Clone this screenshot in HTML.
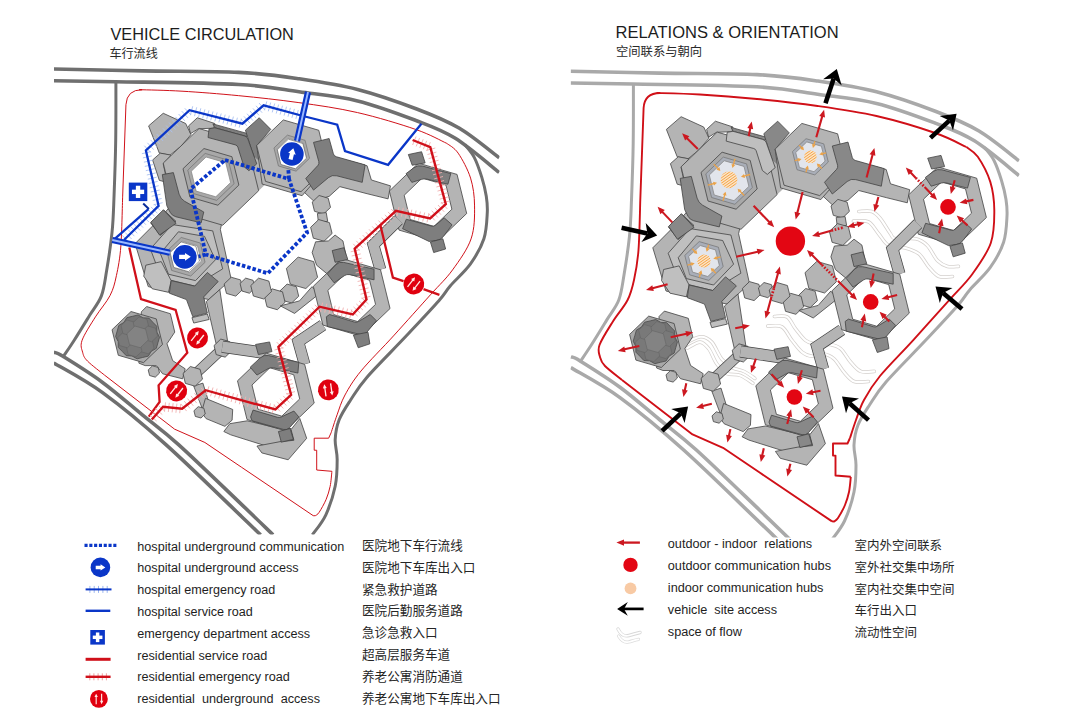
<!DOCTYPE html>
<html><head><meta charset="utf-8"><title>Vehicle circulation / Relations &amp; orientation</title>
<style>
html,body{margin:0;padding:0;background:#fff;}
body{width:1080px;height:715px;overflow:hidden;font-family:"Liberation Sans",sans-serif;}
svg{display:block}
text{font-family:"Liberation Sans","Noto Sans CJK SC",sans-serif;}
</style></head><body>
<svg width="1080" height="715" viewBox="0 0 1080 715">
<rect width="1080" height="715" fill="#fff"/>

<text x="110.4" y="40.1" font-size="16.4" fill="#1c1c1c" textLength="183.5" lengthAdjust="spacingAndGlyphs">VEHICLE CIRCULATION</text>
<text x="109.4" y="57.5" font-size="12.1" fill="#2a2a2a">车行流线</text>
<text x="615.6" y="37.8" font-size="16.4" fill="#1c1c1c" textLength="223" lengthAdjust="spacingAndGlyphs">RELATIONS &amp; ORIENTATION</text>
<text x="616" y="56.3" font-size="12.3" fill="#2a2a2a">空间联系与朝向</text>
<g id="planL">
<clipPath id="clipL"><rect x="54" y="60" width="445.5" height="474.6"/></clipPath><g clip-path="url(#clipL)"><g transform="translate(-513.72,-1.59) scale(0.99404,0.99157)"><path d="M570.7 71.2C585.6 71.5 629.0 72.5 660.0 73.1C691.0 73.7 730.7 73.3 757.0 74.6C783.3 75.9 797.7 78.1 817.6 81.0C837.5 83.9 856.8 86.7 876.5 91.8C896.2 96.9 918.9 105.0 936.0 111.5C953.1 118.0 965.2 122.8 979.0 131.0C992.8 139.2 1012.3 155.8 1019.0 160.8" fill="none" stroke="#6f6f6f" stroke-width="3.60" stroke-linejoin="round" stroke-linecap="butt"/>
<path d="M570.7 83.0C581.1 83.2 602.0 83.4 633.0 84.0C664.0 84.6 726.2 85.1 757.0 86.8C787.8 88.5 797.7 91.4 817.6 94.2C837.5 97.0 856.9 98.6 876.5 103.4C896.1 108.2 918.9 116.9 935.2 123.1C951.5 129.3 960.4 132.1 974.4 140.8C988.4 149.5 1011.6 169.7 1019.0 175.5" fill="none" stroke="#6f6f6f" stroke-width="3.60" stroke-linejoin="round" stroke-linecap="butt"/>
<path d="M633.4 84.0C633.4 93.8 633.5 123.7 633.2 143.0C632.9 162.3 632.1 184.5 631.5 200.0C630.9 215.5 630.8 223.5 629.5 236.0C628.2 248.5 625.8 264.3 624.0 275.0C622.2 285.7 621.6 292.6 618.8 300.0C616.0 307.4 611.6 312.1 607.0 319.6C602.4 327.1 595.7 338.1 591.3 345.0C586.9 351.9 582.3 358.5 580.5 361.2" fill="none" stroke="#6f6f6f" stroke-width="3.00" stroke-linejoin="round" stroke-linecap="butt"/>
<path d="M570.8 356.8C572.4 357.5 572.3 356.1 580.5 361.2C588.7 366.3 606.8 377.5 620.0 387.3C633.2 397.1 647.3 409.6 660.0 420.0C672.7 430.4 679.7 434.9 696.4 450.0C713.1 465.1 744.1 495.3 760.0 510.5C775.9 525.7 786.2 535.9 791.5 541.0" fill="none" stroke="#6f6f6f" stroke-width="3.60" stroke-linejoin="round" stroke-linecap="butt"/>
<path d="M570.8 367.6C579.0 372.6 601.2 383.9 620.0 397.6C638.8 411.3 660.4 429.1 683.7 450.0C707.0 470.9 744.1 507.5 760.0 522.7C775.9 537.9 775.8 538.0 779.0 541.0" fill="none" stroke="#6f6f6f" stroke-width="3.60" stroke-linejoin="round" stroke-linecap="butt"/>
<path d="M984.5 147.5C986.1 149.7 991.2 155.0 994.0 160.5C996.8 166.0 999.5 174.0 1001.5 180.5C1003.5 187.0 1005.1 193.6 1006.0 199.5C1006.9 205.4 1007.4 208.9 1007.0 216.0C1006.6 223.1 1006.4 233.7 1003.6 242.3C1000.8 250.9 995.7 259.8 990.1 267.7C984.5 275.6 975.2 283.5 969.9 289.7C964.6 295.9 965.6 296.5 958.3 304.9C951.0 313.2 938.1 326.9 926.1 339.8C914.1 352.7 895.4 371.1 886.0 382.0C876.6 392.9 874.2 397.8 869.5 405.0C864.8 412.2 860.6 418.3 858.0 425.0C855.4 431.7 854.3 438.3 854.0 445.0C853.7 451.7 856.0 457.2 856.0 465.0C856.0 472.8 855.9 482.7 854.0 492.0C852.1 501.3 848.3 512.8 844.5 521.0C840.7 529.2 833.2 537.7 831.0 541.0" fill="none" stroke="#6f6f6f" stroke-width="3.00" stroke-linejoin="round" stroke-linecap="butt"/></g><g transform="translate(-513.82,-2.77) scale(0.99404,0.9943)"><path d="M640.3 200 L643.6 108 Q644.5 93 660 93 L657.0 93.0C664.2 93.2 683.3 93.5 700.0 94.5C716.7 95.5 737.4 97.1 757.0 99.0C776.6 100.9 797.7 103.2 817.6 106.0C837.5 108.8 856.9 111.5 876.5 116.0C896.1 120.5 920.2 127.8 935.2 133.0C950.2 138.2 961.2 144.7 966.4 147.0" fill="none" stroke="#d01018" stroke-width="1.00" stroke-linejoin="round" stroke-linecap="butt"/>
<path d="M966.4 147.0C968.3 148.6 973.8 151.0 977.8 156.8C981.8 162.6 987.5 173.1 990.3 181.9C993.0 190.8 994.2 199.7 994.3 209.9C994.4 220.1 994.5 232.3 990.8 243.0C987.1 253.7 979.0 264.8 972.2 274.2C965.4 283.6 959.7 288.4 949.9 299.3C940.1 310.2 925.1 327.0 913.5 339.8C901.9 352.6 888.2 366.0 880.0 376.0C871.8 386.0 868.0 392.7 864.0 400.0C860.0 407.3 858.3 413.7 856.0 420.0C853.7 426.3 851.0 435.0 850.0 438.0" fill="none" stroke="#d01018" stroke-width="1.00" stroke-linejoin="round" stroke-linecap="butt"/>
<path d="M850 438 L847.5 443.5 L833 443.5 L833 455.6 L835.5 455.6 L835.5 475.5 L850.8 476.8" fill="none" stroke="#d01018" stroke-width="1.00" stroke-linejoin="round" stroke-linecap="butt"/>
<path d="M850.8 476.8C850.5 479.3 850.0 487.3 849.0 492.0C848.0 496.7 846.8 500.7 845.0 505.0C843.2 509.3 839.8 515.2 838.0 518.0C836.2 520.8 834.7 520.9 834.0 521.5 L832 521.4" fill="none" stroke="#d01018" stroke-width="1.00" stroke-linejoin="round" stroke-linecap="butt"/>
<path d="M832 521.4 L760 472.8 L723 447.8 L692.5 434.4 L622 380" fill="none" stroke="#d01018" stroke-width="1.00" stroke-linejoin="round" stroke-linecap="butt"/>
<path d="M622.0 380.0C619.2 377.7 608.7 369.8 605.0 366.0C601.3 362.2 600.9 360.5 600.0 357.0C599.1 353.5 597.4 350.9 599.5 345.0C601.6 339.1 608.2 329.0 612.9 321.5C617.6 314.0 624.1 306.9 627.6 300.0C631.1 293.1 632.2 288.3 634.0 280.0C635.8 271.7 637.5 263.3 638.5 250.0C639.5 236.7 640.0 208.3 640.3 200.0" fill="none" stroke="#d01018" stroke-width="1.00" stroke-linejoin="round" stroke-linecap="butt"/><polygon points="652.8,247.8 677.4,223.1 690.0,208.0 742.0,218.0 738.6,233.7 749.5,283.7 727.0,304.0 689.0,297.0 666.0,291.0" fill="#b4b4b4" stroke="#424242" stroke-width="0.80" stroke-linejoin="round"/>
<polygon points="666.4,129.4 681.1,116.7 703.7,127.0 709.0,138.2 698.8,150.0 688.0,158.8 677.2,156.8" fill="#b4b4b4" stroke="#424242" stroke-width="0.80" stroke-linejoin="round"/>
<polygon points="670.4,163.7 678.2,156.8 689.0,158.8 681.1,167.6 685.1,186.2 677.2,184.2" fill="#b4b4b4" stroke="#424242" stroke-width="0.80" stroke-linejoin="round"/>
<polygon points="706.6,129.4 715.4,121.2 733.0,127.0 732.1,131.7 716.4,132.3 708.6,137.2" fill="#b4b4b4" stroke="#424242" stroke-width="0.80" stroke-linejoin="round"/>
<polygon points="731.1,127.4 766.3,137.2 765.4,140.2 733.0,131.3" fill="#7e7e7e" stroke="#424242" stroke-width="0.80" stroke-linejoin="round"/>
<polygon points="763.8,133.7 777.7,121.2 789.3,132.9 777.1,147.0 781.0,167.6 775.2,168.6 769.3,151.3" fill="#7e7e7e" stroke="#424242" stroke-width="0.80" stroke-linejoin="round"/>
<polygon points="846.0,158.8 886.2,169.5 890.5,183.8 909.7,189.7 907.3,202.8 886.2,197.6 858.8,190.5 848.0,200.3 832.3,204.8 818.6,192.1 837.2,168.6" fill="#b4b4b4" stroke="#424242" stroke-width="0.80" stroke-linejoin="round"/>
<polygon points="768.3,156.8 781.0,167.6 785.0,187.2 777.1,194.6 770.3,178.4" fill="#b4b4b4" stroke="none" stroke-width="0.80" stroke-linejoin="round"/>
<polygon points="846.5,169.9 820.8,199.6 780.6,187.9 775.1,149.1" fill="#b4b4b4" stroke="#424242" stroke-width="0.80" stroke-linejoin="round"/>
<polygon points="846.5,169.9 819.7,195.6 784.0,185.2 775.1,149.1 801.9,123.4 837.6,133.8" fill="#b4b4b4" stroke="#424242" stroke-width="0.80" stroke-linejoin="round"/>
<polygon points="777.1,194.6 741.0,229.3 693.0,215.3 681.1,166.8 717.2,132.1 765.2,146.1" fill="#b4b4b4" stroke="#424242" stroke-width="0.80" stroke-linejoin="round"/>
<path d="M727.2 132.3L733.0 131.3L762.7 139.4Q765.4 140.2 766.3 142.7L775.2 167.6L767.3 174.4L762.4 170.5L756.2 150.8Q755.6 149.0 753.7 148.5L726.2 141.1Z" fill="#7e7e7e" stroke="#424242" stroke-width="0.80" stroke-linejoin="round" stroke-linecap="butt"/>
<polygon points="757.2,188.9 736.1,209.2 708.0,201.0 701.0,172.5 722.1,152.2 750.2,160.4" fill="#a8a8a8" stroke="#424242" stroke-width="0.80" stroke-linejoin="round"/>
<polygon points="752.4,187.5 734.9,204.3 711.6,197.5 705.8,173.9 723.3,157.1 746.6,163.9" fill="#a8a8a8" stroke="#666" stroke-width="0.60" stroke-linejoin="round"/>
<polygon points="748.9,186.4 734.0,200.7 714.2,195.0 709.3,175.0 724.2,160.7 744.0,166.4" fill="#ffffff" stroke="#888" stroke-width="0.80" stroke-linejoin="round"/>
<polygon points="828.3,162.0 814.8,174.9 797.0,169.7 792.5,151.6 806.0,138.7 823.8,143.9" fill="#a8a8a8" stroke="#666" stroke-width="0.60" stroke-linejoin="round"/>
<polygon points="825.1,161.1 814.0,171.7 799.4,167.4 795.7,152.5 806.8,141.9 821.4,146.2" fill="#ffffff" stroke="#888" stroke-width="0.80" stroke-linejoin="round"/>
<path d="M680.2 178.4L691.3 176.4L697.1 198.1Q698.4 202.8 702.6 205.2L721.9 216.0L719.3 226.9L693.8 220.8Q690.0 219.9 688.1 216.4L684.7 209.7Z" fill="#7e7e7e" stroke="#424242" stroke-width="0.80" stroke-linejoin="round" stroke-linecap="butt"/>
<polygon points="668.4,226.9 681.7,214.2 693.9,225.4 678.2,239.5" fill="#7e7e7e" stroke="#424242" stroke-width="0.80" stroke-linejoin="round"/>
<path d="M832.3 146.0L848.0 142.1L852.3 157.5Q852.9 159.7 855.2 160.4L884.2 168.6L881.3 186.2L855.7 179.6Q850.9 178.4 847.2 181.5L832.3 194.0L824.5 182.3L836.6 169.3Q838.2 167.6 837.6 165.3Z" fill="#7e7e7e" stroke="#424242" stroke-width="0.80" stroke-linejoin="round" stroke-linecap="butt"/>
<polygon points="849.4,211.4 842.5,218.0 833.3,215.3 831.0,206.0 837.9,199.4 847.1,202.1" fill="#b4b4b4" stroke="#424242" stroke-width="0.80" stroke-linejoin="round"/>
<polygon points="836.2,217.5 845.1,216.6 846.6,225.4 837.2,226.3" fill="#b4b4b4" stroke="#424242" stroke-width="0.80" stroke-linejoin="round"/>
<polygon points="851.0,237.6 842.9,245.4 832.1,242.3 829.4,231.4 837.5,223.6 848.3,226.7" fill="#b4b4b4" stroke="#424242" stroke-width="0.80" stroke-linejoin="round"/>
<polygon points="986.4,217.5 957.2,245.5 918.3,234.2 908.6,194.9 937.8,166.9 976.7,178.2" fill="#b4b4b4" stroke="#424242" stroke-width="0.80" stroke-linejoin="round"/>
<polygon points="971.5,213.2 953.5,230.5 929.5,223.5 923.5,199.2 941.5,181.9 965.5,188.9" fill="#fff" stroke="#424242" stroke-width="0.80" stroke-linejoin="round"/>
<polygon points="927.7,158.2 941.0,155.4 944.6,166.6 931.6,169.0" fill="#7e7e7e" stroke="#424242" stroke-width="0.80" stroke-linejoin="round"/>
<path d="M925.4 177.4L933.2 171.5Q937.1 168.6 941.9 169.8L970.4 177.4L967.5 188.1L946.8 183.0Q944.0 182.3 941.2 183.1L931.2 186.2Z" fill="#7e7e7e" stroke="#424242" stroke-width="0.80" stroke-linejoin="round" stroke-linecap="butt"/>
<path d="M921.9 232.8L925.6 223.3L951.1 230.2Q953.2 230.8 954.9 229.4L963.8 221.9L971.7 228.9L963.0 240.6Q960.5 244.0 956.3 244.5L948.5 245.6Z" fill="#7e7e7e" stroke="#424242" stroke-width="0.80" stroke-linejoin="round" stroke-linecap="butt"/>
<polygon points="949.9,246.2 962.4,242.9 965.2,253.2 953.2,256.8" fill="#7e7e7e" stroke="#424242" stroke-width="0.80" stroke-linejoin="round"/>
<polygon points="724.5,306.0 738.0,294.0 745.8,345.5 734.3,348.5" fill="#b4b4b4" stroke="#424242" stroke-width="0.80" stroke-linejoin="round"/>
<polygon points="668.2,253.2 690.0,228.6 730.9,235.0 740.9,273.2 712.7,290.5 679.1,282.3" fill="#bfbfbf" stroke="#424242" stroke-width="0.80" stroke-linejoin="round"/>
<polygon points="678.2,257.7 696.4,235.9 722.7,240.5 733.6,264.1 713.6,285.0 686.4,278.6" fill="#b4b4b4" stroke="#424242" stroke-width="0.80" stroke-linejoin="round"/>
<polygon points="723.2,266.6 708.8,280.4 689.6,274.8 684.8,255.4 699.2,241.6 718.4,247.2" fill="#a8a8a8" stroke="#666" stroke-width="0.60" stroke-linejoin="round"/>
<polygon points="719.4,265.5 707.8,276.5 692.5,272.1 688.6,256.5 700.2,245.5 715.5,249.9" fill="#ffffff" stroke="#888" stroke-width="0.80" stroke-linejoin="round"/>
<polygon points="663.6,269.5 679.1,265.9 689.1,285.0 686.4,296.8 670.0,293.2 661.5,280.5" fill="#bfbfbf" stroke="#424242" stroke-width="0.80" stroke-linejoin="round"/>
<polygon points="689.1,285.0 712.7,290.5 725.5,276.8 736.4,285.9 721.8,301.4 725.5,317.7 710.9,321.4 704.5,304.1 687.3,297.7" fill="#7e7e7e" stroke="#424242" stroke-width="0.80" stroke-linejoin="round"/>
<polygon points="710.0,322.3 725.5,318.6 727.3,324.1 711.8,327.7" fill="#bfbfbf" stroke="#424242" stroke-width="0.80" stroke-linejoin="round"/>
<polygon points="668.6,226.4 681.3,213.7 694.0,227.4 677.4,239.2" fill="#7e7e7e" stroke="#424242" stroke-width="0.80" stroke-linejoin="round"/>
<polygon points="761.2,293.8 754.1,300.6 744.7,297.9 742.4,288.4 749.5,281.6 758.9,284.3" fill="#b4b4b4" stroke="#424242" stroke-width="0.80" stroke-linejoin="round"/>
<path d="M741.2 352.9 L710.8 381.3" fill="none" stroke="#424242" stroke-width="10.4" stroke-linejoin="miter" stroke-miterlimit="10"/>
<path d="M741.2 352.9 L710.8 381.3" fill="none" stroke="#b4b4b4" stroke-width="9.0" stroke-linejoin="miter" stroke-miterlimit="10"/>
<polygon points="659.1,316.4 664.4,311.1 688.3,318.3 692.7,336.8 684.9,348.5 690.6,365.5 703.2,373.7 700.6,383.8 680.5,378.7 674.2,370.5 662.9,370.5 656.6,368.0" fill="#b4b4b4" stroke="#424242" stroke-width="0.80" stroke-linejoin="round"/>
<polygon points="680.4,349.2 661.3,367.5 635.9,360.1 629.6,334.4 648.7,316.1 674.1,323.5" fill="#a8a8a8" stroke="#424242" stroke-width="0.80" stroke-linejoin="round"/>
<polygon points="675.8,347.5 674.2,353.1 669.2,356.1 666.0,361.0 660.4,362.3 654.8,363.7 649.7,360.8 643.9,360.5 639.9,356.3 635.9,352.2 635.8,346.4 633.2,341.2 634.8,335.7 636.4,330.1 641.4,327.1 644.6,322.2 650.2,320.9 655.8,319.5 660.9,322.4 666.7,322.7 670.7,326.9 674.7,331.0 674.8,336.8 677.4,342.0" fill="#747474" stroke="#4a4a4a" stroke-width="0.80" stroke-linejoin="round"/>
<polygon points="671.9,353.0 666.0,358.6 658.1,356.3 656.2,348.4 662.1,342.7 670.0,345.0" fill="#797979" stroke="#606060" stroke-width="0.50" stroke-linejoin="round"/>
<polygon points="659.7,356.0 653.8,361.7 645.9,359.4 644.0,351.4 649.9,345.7 657.7,348.0" fill="#797979" stroke="#606060" stroke-width="0.50" stroke-linejoin="round"/>
<polygon points="650.9,346.9 645.0,352.6 637.2,350.3 635.2,342.4 641.1,336.7 649.0,339.0" fill="#797979" stroke="#606060" stroke-width="0.50" stroke-linejoin="round"/>
<polygon points="654.4,334.8 648.5,340.5 640.6,338.2 638.7,330.2 644.6,324.6 652.5,326.9" fill="#797979" stroke="#606060" stroke-width="0.50" stroke-linejoin="round"/>
<polygon points="666.6,331.8 660.7,337.5 652.9,335.2 650.9,327.2 656.8,321.5 664.7,323.8" fill="#797979" stroke="#606060" stroke-width="0.50" stroke-linejoin="round"/>
<polygon points="675.4,340.8 669.5,346.5 661.6,344.2 659.7,336.3 665.6,330.6 673.4,332.9" fill="#797979" stroke="#606060" stroke-width="0.50" stroke-linejoin="round"/>
<polygon points="666.1,344.7 658.0,352.5 647.2,349.4 644.5,338.5 652.6,330.7 663.4,333.8" fill="#838383" stroke="#606060" stroke-width="0.50" stroke-linejoin="round"/>
<polygon points="677.4,378.0 673.1,382.1 667.4,380.5 666.0,374.8 670.3,370.7 676.0,372.3" fill="#b4b4b4" stroke="#424242" stroke-width="0.80" stroke-linejoin="round"/>
<polygon points="711.8,391.1 721.0,388.1 726.5,405.8 730.4,415.6 722.6,419.5 717.7,406.8" fill="#b4b4b4" stroke="#424242" stroke-width="0.80" stroke-linejoin="round"/>
<polygon points="723.6,403.4 751.0,414.6 750.4,425.4 743.2,431.6 724.2,423.8 719.6,417.5" fill="#b4b4b4" stroke="#424242" stroke-width="0.80" stroke-linejoin="round"/>
<polygon points="723.4,419.1 719.1,423.2 713.4,421.6 712.0,415.9 716.3,411.8 722.0,413.4" fill="#b4b4b4" stroke="#424242" stroke-width="0.80" stroke-linejoin="round"/>
<polygon points="750.2,355.5 743.4,362.0 734.4,359.4 732.2,350.3 739.0,343.8 748.0,346.4" fill="#b4b4b4" stroke="#424242" stroke-width="0.80" stroke-linejoin="round"/>
<polygon points="720.6,384.1 713.2,391.2 703.4,388.4 701.0,378.5 708.4,371.4 718.2,374.2" fill="#b4b4b4" stroke="#424242" stroke-width="0.80" stroke-linejoin="round"/>
<polygon points="834.4,246.0 847.2,245.1 854.0,239.2 861.9,245.1 864.8,258.8 857.9,265.6 846.2,278.4 835.4,269.5 830.9,256.8" fill="#b4b4b4" stroke="#424242" stroke-width="0.80" stroke-linejoin="round"/>
<polygon points="773.4,292.3 767.8,297.7 760.3,295.5 758.4,287.9 764.0,282.5 771.5,284.7" fill="#b4b4b4" stroke="#424242" stroke-width="0.80" stroke-linejoin="round"/>
<polygon points="817.4,300.7 810.3,307.5 800.9,304.8 798.6,295.3 805.7,288.5 815.1,291.2" fill="#b4b4b4" stroke="#424242" stroke-width="0.80" stroke-linejoin="round"/>
<polygon points="803.7,306.8 795.9,314.3 785.5,311.3 782.9,300.8 790.7,293.3 801.1,296.3" fill="#b4b4b4" stroke="#424242" stroke-width="0.80" stroke-linejoin="round"/>
<polygon points="790.0,296.0 782.2,303.5 771.8,300.5 769.2,290.0 777.0,282.5 787.4,285.5" fill="#b4b4b4" stroke="#424242" stroke-width="0.80" stroke-linejoin="round"/>
<polygon points="836.4,281.7 824.6,293.0 808.9,288.5 805.0,272.7 816.8,261.4 832.5,265.9" fill="#b4b4b4" stroke="#424242" stroke-width="0.80" stroke-linejoin="round"/>
<polygon points="798.9,310.4 813.2,318.0 837.5,298.7 830.8,291.1 818.2,305.4" fill="#b4b4b4" stroke="#424242" stroke-width="0.80" stroke-linejoin="round"/>
<path d="M740.5 351.5 L784.7 358.0" fill="none" stroke="#424242" stroke-width="12.2" stroke-linejoin="miter" stroke-miterlimit="10"/>
<path d="M740.5 351.5 L784.7 358.0" fill="none" stroke="#b4b4b4" stroke-width="10.8" stroke-linejoin="miter" stroke-miterlimit="10"/>
<path d="M841.8 329.8 L817.0 346.5 L823.3 369.1" fill="none" stroke="#424242" stroke-width="11.8" stroke-linejoin="miter" stroke-miterlimit="10"/>
<path d="M841.8 329.8 L817.0 346.5 L823.3 369.1" fill="none" stroke="#b4b4b4" stroke-width="10.4" stroke-linejoin="miter" stroke-miterlimit="10"/>
<polygon points="742.1,436.8 748.0,428.9 765.6,426.0 797.9,433.8 809.7,433.8 812.6,445.6 797.9,447.5 786.2,451.8 749.0,440.1" fill="#b4b4b4" stroke="#424242" stroke-width="0.80" stroke-linejoin="round"/>
<polygon points="775.4,451.4 797.9,447.1 812.6,445.6 809.7,434.8 818.5,423.6 825.4,443.6 806.8,465.2 780.3,458.3" fill="#b4b4b4" stroke="#424242" stroke-width="0.80" stroke-linejoin="round"/>
<path d="M899.6 274.0 L892.5 249.0 L917.9 223.8" fill="none" stroke="#424242" stroke-width="11.9" stroke-linejoin="miter" stroke-miterlimit="10"/>
<path d="M899.6 274.0 L892.5 249.0 L917.9 223.8" fill="none" stroke="#b4b4b4" stroke-width="10.5" stroke-linejoin="miter" stroke-miterlimit="10"/>
<polygon points="909.3,313.1 880.3,340.9 841.7,329.7 832.1,290.7 861.1,262.9 899.7,274.1" fill="#b4b4b4" stroke="#424242" stroke-width="0.80" stroke-linejoin="round"/>
<polygon points="894.7,308.9 876.7,326.2 852.7,319.2 846.7,294.9 864.7,277.6 888.7,284.6" fill="#fff" stroke="#424242" stroke-width="0.80" stroke-linejoin="round"/>
<polygon points="851.1,254.8 862.8,251.9 866.8,263.7 854.0,266.6" fill="#7e7e7e" stroke="#424242" stroke-width="0.80" stroke-linejoin="round"/>
<path d="M846.2 278.4L854.6 269.2Q857.9 265.6 862.7 266.7L893.2 273.5L893.2 284.2L868.7 279.0Q865.8 278.4 863.4 280.0L853.0 287.2Z" fill="#7e7e7e" stroke="#424242" stroke-width="0.80" stroke-linejoin="round" stroke-linecap="butt"/>
<path d="M845.2 321.4L848.5 319.1L873.7 326.8Q875.6 327.3 877.3 326.3L889.3 319.1L895.6 325.4L885.9 337.0Q883.4 340.1 879.6 339.2L846.2 331.2Z" fill="#7e7e7e" stroke="#424242" stroke-width="0.80" stroke-linejoin="round" stroke-linecap="butt"/>
<polygon points="872.4,339.8 887.1,336.9 889.0,348.6 877.3,352.5" fill="#7e7e7e" stroke="#424242" stroke-width="0.80" stroke-linejoin="round"/>
<polygon points="833.0,408.2 804.0,436.0 765.4,424.8 755.8,385.8 784.8,358.0 823.4,369.2" fill="#b4b4b4" stroke="#424242" stroke-width="0.80" stroke-linejoin="round"/>
<polygon points="818.4,404.0 800.4,421.3 776.4,414.3 770.4,390.0 788.4,372.7 812.4,379.7" fill="#fff" stroke="#424242" stroke-width="0.80" stroke-linejoin="round"/>
<polygon points="774.0,349.2 788.1,346.7 790.5,356.4 776.8,359.4" fill="#7e7e7e" stroke="#424242" stroke-width="0.80" stroke-linejoin="round"/>
<path d="M768.6 372.1L778.7 362.7Q782.3 359.4 787.1 360.4L817.5 367.2L816.6 378.0L792.0 372.7Q789.1 372.1 786.6 373.6L775.4 380.0Z" fill="#7e7e7e" stroke="#424242" stroke-width="0.80" stroke-linejoin="round" stroke-linecap="butt"/>
<path d="M769.0 422.1L771.5 415.2L796.1 422.5Q797.9 423.0 799.7 422.2L812.6 416.2L817.5 422.1L808.3 432.8Q805.8 435.8 802.0 434.7L770.5 426.0Z" fill="#7e7e7e" stroke="#424242" stroke-width="0.80" stroke-linejoin="round" stroke-linecap="butt"/>
<polygon points="797.0,436.8 808.7,433.8 812.0,444.6 799.9,447.5" fill="#7e7e7e" stroke="#424242" stroke-width="0.80" stroke-linejoin="round"/></g></g>
<path d="M225.0 160.0 L289.0 179.0 L307.1 232.7 L267.9 273.3 L205.9 254.5 L190.5 189.1 Z" stroke="#0a36c8" stroke-width="3.8" stroke-dasharray="3.5 2.0" fill="none"/>
<path d="M289.0 179.0 L288.2 168.0" stroke="#0a36c8" stroke-width="3.8" fill="none" stroke-linejoin="miter" stroke-dasharray="3.5 2.0"/>
<path d="M205.9 254.5 L197.0 257.0" stroke="#0a36c8" stroke-width="3.8" fill="none" stroke-linejoin="miter" stroke-dasharray="3.5 2.0"/>
<path d="M122.2 235.3L128.7 241.9M125.1 232.5L131.6 239.0M128.0 229.6L134.4 236.2M130.9 226.8L137.3 233.3M133.7 223.9L140.2 230.5M136.6 221.1L143.1 227.6M139.5 218.3L146.0 224.8M142.4 215.4L148.9 222.0M145.3 212.6L151.7 219.1M148.2 209.7L154.6 216.3M151.0 206.9L157.5 213.4M153.9 204.0L160.4 210.6M153.6 204.8L162.6 202.7M152.7 200.5L161.6 198.5M151.7 196.3L160.6 194.2M150.7 192.0L159.7 190.0M149.7 187.8L158.7 185.7M148.7 183.5L157.7 181.4M147.8 179.2L156.7 177.2M146.8 175.0L155.8 172.9M145.8 170.7L154.8 168.6M144.8 166.4L153.8 164.4M143.9 162.2L152.8 160.1M142.9 157.9L151.8 155.9M141.9 153.7L150.9 151.6M144.3 145.7L150.6 152.4M147.4 142.8L153.7 149.6M150.6 139.9L156.8 146.7M153.7 137.0L159.9 143.8M156.8 134.2L163.0 140.9M159.9 131.3L166.2 138.0M163.0 128.4L169.3 135.2M166.1 125.5L172.4 132.3M169.2 122.7L175.5 129.4M172.4 119.8L178.6 126.5M175.5 116.9L181.7 123.7M178.6 114.0L184.8 120.8M181.7 111.1L188.0 117.9M184.8 108.3L191.1 115.0M192.7 106.3L190.4 115.2M196.7 107.3L194.5 116.2M200.8 108.3L198.5 117.3M204.9 109.4L202.6 118.3M208.9 110.4L206.7 119.3M213.0 111.5L210.7 120.4M217.1 112.5L214.8 121.4M221.2 113.5L218.9 122.4M225.2 114.6L223.0 123.5M229.3 115.6L227.0 124.5M233.4 116.6L231.1 125.6M237.4 117.7L235.2 126.6M241.5 118.7L239.2 127.6M240.9 118.9L246.9 125.9M243.9 116.3L250.0 123.2M247.0 113.7L253.0 120.6M250.0 111.0L256.0 118.0M253.0 108.4L259.0 115.3M256.0 105.8L262.1 112.7M259.1 103.1L265.1 110.1M266.8 101.4L264.4 110.3M270.7 102.5L268.3 111.3M274.7 103.5L272.2 112.4M278.6 104.6L276.2 113.5M282.5 105.7L280.1 114.6M286.5 106.7L284.1 115.6M290.4 107.8L288.0 116.7M294.4 108.9L291.9 117.8M298.3 110.0L295.9 118.8M302.2 111.0L299.8 119.9" stroke="#a9c1f2" stroke-width="0.9" fill="none"/><path d="M124.0 240.0 L158.6 205.9 L145.9 150.5 L189.5 110.2 L242.4 123.7 L263.6 105.3 L303.0 116.0" stroke="#0a36c8" stroke-width="2.3" fill="none" stroke-linejoin="miter"/>
<path d="M303.0 116.0 L337.2 124.6 L345.0 151.0 L388.1 164.8 L421.4 123.7" stroke="#0a36c8" stroke-width="2.3" fill="none" stroke-linejoin="miter"/>
<path d="M114.5 239.1 L148.4 209.2" stroke="#0a36c8" stroke-width="2.3" fill="none" stroke-linejoin="miter"/>
<path d="M143.2 203.6 L148.9 209.0" stroke="#0a2c9a" stroke-width="2.0" fill="none" stroke-linejoin="miter"/>
<rect x="128.8" y="182.6" width="18.5" height="18.5" fill="#0a36c8"/><rect x="131.95" y="189.67" width="12.21" height="4.37" fill="#fff"/><rect x="135.87" y="185.75" width="4.37" height="12.21" fill="#fff"/>
<path d="M112.3 240.0 L170.0 252.8" stroke="#0a36c8" stroke-width="6.2" fill="none" stroke-linejoin="miter"/><path d="M112.3 240.0 L170.0 252.8" stroke="#9bb8ff" stroke-width="1.9" fill="none" stroke-linejoin="miter"/>
<path d="M308.0 92.0 L297.0 141.0" stroke="#0a36c8" stroke-width="6.2" fill="none" stroke-linejoin="miter"/><path d="M308.0 92.0 L297.0 141.0" stroke="#9bb8ff" stroke-width="1.9" fill="none" stroke-linejoin="miter"/>
<polygon points="199.5,261.1 188.5,271.7 173.7,267.4 170.1,252.5 181.1,241.9 195.9,246.2" fill="#fff" stroke="#666" stroke-width="0.7"/><circle cx="184.8" cy="256.8" r="11.9" fill="#0a36c8"/><polygon transform="translate(184.8,256.8) rotate(0)" points="-5.70,-2.10 0.20,-2.10 0.20,-3.90 6.00,0.00 0.20,3.90 0.20,2.10 -5.70,2.10" fill="#fff"/>
<polygon points="306.5,158.2 295.5,168.8 280.9,164.5 277.3,149.8 288.3,139.2 302.9,143.5" fill="#fff" stroke="#666" stroke-width="0.7"/><circle cx="291.9" cy="154.0" r="11.8" fill="#0a36c8"/><polygon transform="translate(291.9,154.0) rotate(-76)" points="-5.65,-2.08 0.20,-2.08 0.20,-3.87 5.95,0.00 0.20,3.87 0.20,2.08 -5.65,2.08" fill="#fff"/>
<path d="M129.3 247.6 L141.0 299.2 L175.6 309.8 L187.3 352.7 L158.6 385.3 L159.6 401.9 L148.8 416.6" stroke="#d0101a" stroke-width="2.3" fill="none" stroke-linejoin="miter"/>
<path d="M149.8 414.9L156.6 421.0M152.6 411.7L159.5 417.8M155.4 408.5L162.3 414.6M158.3 405.3L165.1 411.4M165.5 402.4L164.5 411.6M169.3 402.8L168.3 412.0M173.1 403.2L172.1 412.4M176.9 403.6L175.9 412.8M180.7 404.0L179.7 413.2M180.9 403.9L186.6 411.1M184.3 401.2L190.0 408.4M187.6 398.6L193.3 405.8M191.0 395.9L196.7 403.1M194.4 393.2L200.1 400.4M197.7 390.6L203.4 397.8M201.1 387.9L206.8 395.1M208.9 386.3L206.4 395.2M213.0 387.5L210.5 396.3M217.1 388.6L214.6 397.5M221.2 389.7L218.7 398.6M225.3 390.9L222.9 399.7M229.4 392.0L227.0 400.9M233.5 393.1L231.1 402.0M237.6 394.3L235.2 403.1M241.7 395.4L239.3 404.3M245.8 396.6L243.4 405.4M249.9 397.7L247.5 406.6M254.0 398.8L251.6 407.7M258.1 400.0L255.7 408.8M262.3 401.1L259.8 410.0M266.4 402.2L263.9 411.1M270.5 403.4L268.0 412.2M274.6 404.5L272.1 413.4M273.8 404.7L280.1 411.4M277.0 401.7L283.3 408.4M280.1 398.8L286.4 405.5M283.2 395.9L289.5 402.6M286.4 392.9L292.7 399.6M286.1 394.0L295.0 391.6M285.1 390.0L294.0 387.6M284.0 386.0L292.9 383.6M282.9 382.0L291.8 379.6M281.9 378.0L290.8 375.6M280.8 374.0L289.7 371.6M279.8 370.0L288.7 367.6M278.7 366.0L287.6 363.6M277.7 362.0L286.6 359.6M276.6 358.0L285.5 355.6M275.5 354.0L284.4 351.6M274.5 350.0L283.4 347.6M276.7 342.1L283.1 348.7M279.6 339.2L286.0 345.8M282.5 336.3L289.0 342.9M285.5 333.5L291.9 340.1M288.4 330.6L294.8 337.2M291.3 327.8L297.8 334.3M294.3 324.9L300.7 331.5M297.2 322.0L303.6 328.6M300.1 319.2L306.6 325.7M303.1 316.3L309.5 322.9M306.0 313.4L312.4 320.0M308.9 310.6L315.4 317.2M311.9 307.7L318.3 314.3M314.8 304.8L321.2 311.4M322.6 302.7L320.5 311.7M326.8 303.7L324.7 312.6M331.0 304.7L328.9 313.6M335.1 305.6L333.0 314.6M339.3 306.6L337.2 315.6M343.4 307.6L341.3 316.5M347.6 308.6L345.5 317.5M351.8 309.5L349.7 318.5M350.8 309.9L357.6 316.1M353.5 306.9L360.3 313.1M356.3 303.9L363.0 310.1M359.0 300.9L365.8 307.1M361.7 297.9L368.5 304.1M361.5 298.4L370.5 296.3M360.5 294.2L369.5 292.1M359.6 289.9L368.5 287.9M358.6 285.7L367.5 283.6M357.6 281.5L366.6 279.4M356.6 277.2L365.6 275.1M355.6 273.0L364.6 270.9M354.6 268.7L363.6 266.6M353.7 264.5L362.6 262.4M352.7 260.2L361.6 258.2M351.7 256.0L360.7 253.9M350.7 251.8L359.7 249.7M353.2 243.8L359.4 250.5M356.3 240.9L362.6 247.6M359.5 238.0L365.7 244.7M362.7 235.1L368.9 241.8M365.9 232.2L372.1 238.9M369.0 229.3L375.2 236.0M372.2 226.4L378.4 233.1M375.4 223.5L381.6 230.2M378.5 220.6L384.7 227.3M381.7 217.7L387.9 224.4M384.9 214.8L391.1 221.5M388.0 211.9L394.3 218.6M391.2 209.0L397.4 215.7M399.0 206.9L397.1 215.9M403.3 207.8L401.3 216.8M407.6 208.8L405.6 217.7M411.8 209.7L409.9 218.7M416.1 210.6L414.2 219.6M420.4 211.6L418.4 220.5M424.7 212.5L422.7 221.5M428.9 213.4L427.0 222.4M428.6 213.6L434.8 220.4M431.7 210.7L437.9 217.5M434.9 207.8L441.0 214.7M438.0 205.0L444.2 211.8M441.1 202.1L447.3 208.9M440.8 203.3L449.7 200.9M439.7 199.2L448.6 196.8M438.6 195.1L447.5 192.7M437.5 191.1L446.4 188.7M436.4 187.0L445.3 184.6M435.3 183.0L444.1 180.5M434.2 178.9L443.0 176.5M433.1 174.8L441.9 172.4M432.0 170.8L440.8 168.3M430.8 166.7L439.7 164.3M429.7 162.6L438.6 160.2M428.6 158.6L437.5 156.2M427.5 154.5L436.4 152.1M426.4 150.4L435.3 148.0M426.8 150.7L430.3 142.2M423.3 149.3L426.7 140.8M419.7 147.9L423.2 139.3M416.2 146.4L419.6 137.9M412.6 145.0L416.1 136.5" stroke="#f2b0b0" stroke-width="0.9" fill="none"/><path d="M151.8 419.5 L163.1 406.8 L182.1 408.8 L205.6 390.2 L275.4 409.5 L291.1 394.8 L278.4 346.8 L319.5 306.7 L352.8 314.5 L366.5 299.5 L354.7 248.6 L395.9 210.9 L430.1 218.4 L445.8 204.1 L430.3 147.2 L412.6 140.0" stroke="#d0101a" stroke-width="2.4" fill="none" stroke-linejoin="miter"/>
<path d="M380.2 224.5 L392.9 277.5 L403.5 281.2" stroke="#d0101a" stroke-width="2.3" fill="none" stroke-linejoin="miter"/>
<path d="M423.5 289.2 L439.4 294.9" stroke="#d0101a" stroke-width="2.3" fill="none" stroke-linejoin="miter"/>
<g transform="translate(197.5,337.9) rotate(38.0)"><circle r="10.5" fill="#e0000f"/><path d="M-3.21 6.18 V-3.01" stroke="#ffe9e6" stroke-width="1.34" fill="none"/><polygon points="-3.21,-6.18 -5.19,-2.22 -1.23,-2.22" fill="#ffe9e6"/><path d="M3.21 -6.18 V3.01" stroke="#ffe9e6" stroke-width="1.34" fill="none"/><polygon points="3.21,6.18 1.23,2.22 5.19,2.22" fill="#ffe9e6"/></g>
<g transform="translate(176.6,390.9) rotate(38.0)"><circle r="10.5" fill="#e0000f"/><path d="M-3.21 6.18 V-3.01" stroke="#ffe9e6" stroke-width="1.34" fill="none"/><polygon points="-3.21,-6.18 -5.19,-2.22 -1.23,-2.22" fill="#ffe9e6"/><path d="M3.21 -6.18 V3.01" stroke="#ffe9e6" stroke-width="1.34" fill="none"/><polygon points="3.21,6.18 1.23,2.22 5.19,2.22" fill="#ffe9e6"/></g>
<g transform="translate(328.3,389.9) rotate(-8.0)"><circle r="10.4" fill="#e0000f"/><path d="M-3.18 6.12 V-2.98" stroke="#ffe9e6" stroke-width="1.33" fill="none"/><polygon points="-3.18,-6.12 -5.14,-2.20 -1.21,-2.20" fill="#ffe9e6"/><path d="M3.18 -6.12 V2.98" stroke="#ffe9e6" stroke-width="1.33" fill="none"/><polygon points="3.18,6.12 1.21,2.20 5.14,2.20" fill="#ffe9e6"/></g>
<g transform="translate(413.8,284.0) rotate(38.0)"><circle r="10.4" fill="#e0000f"/><path d="M-3.18 6.12 V-2.98" stroke="#ffe9e6" stroke-width="1.33" fill="none"/><polygon points="-3.18,-6.12 -5.14,-2.20 -1.21,-2.20" fill="#ffe9e6"/><path d="M3.18 -6.12 V2.98" stroke="#ffe9e6" stroke-width="1.33" fill="none"/><polygon points="3.18,6.12 1.21,2.20 5.14,2.20" fill="#ffe9e6"/></g>
</g>
<g id="planR">
<clipPath id="clipR"><rect x="570.5" y="60" width="449" height="477.6"/></clipPath><g clip-path="url(#clipR)"><path d="M570.7 71.2C585.6 71.5 629.0 72.5 660.0 73.1C691.0 73.7 730.7 73.3 757.0 74.6C783.3 75.9 797.7 78.1 817.6 81.0C837.5 83.9 856.8 86.7 876.5 91.8C896.2 96.9 918.9 105.0 936.0 111.5C953.1 118.0 965.2 122.8 979.0 131.0C992.8 139.2 1012.3 155.8 1019.0 160.8" fill="none" stroke="#a9a9a9" stroke-width="3.60" stroke-linejoin="round" stroke-linecap="butt"/>
<path d="M570.7 83.0C581.1 83.2 602.0 83.4 633.0 84.0C664.0 84.6 726.2 85.1 757.0 86.8C787.8 88.5 797.7 91.4 817.6 94.2C837.5 97.0 856.9 98.6 876.5 103.4C896.1 108.2 918.9 116.9 935.2 123.1C951.5 129.3 960.4 132.1 974.4 140.8C988.4 149.5 1011.6 169.7 1019.0 175.5" fill="none" stroke="#a9a9a9" stroke-width="3.60" stroke-linejoin="round" stroke-linecap="butt"/>
<path d="M633.4 84.0C633.4 93.8 633.5 123.7 633.2 143.0C632.9 162.3 632.1 184.5 631.5 200.0C630.9 215.5 630.8 223.5 629.5 236.0C628.2 248.5 625.8 264.3 624.0 275.0C622.2 285.7 621.6 292.6 618.8 300.0C616.0 307.4 611.6 312.1 607.0 319.6C602.4 327.1 595.7 338.1 591.3 345.0C586.9 351.9 582.3 358.5 580.5 361.2" fill="none" stroke="#a9a9a9" stroke-width="3.00" stroke-linejoin="round" stroke-linecap="butt"/>
<path d="M570.8 356.8C572.4 357.5 572.3 356.1 580.5 361.2C588.7 366.3 606.8 377.5 620.0 387.3C633.2 397.1 647.3 409.6 660.0 420.0C672.7 430.4 679.7 434.9 696.4 450.0C713.1 465.1 744.1 495.3 760.0 510.5C775.9 525.7 786.2 535.9 791.5 541.0" fill="none" stroke="#a9a9a9" stroke-width="3.60" stroke-linejoin="round" stroke-linecap="butt"/>
<path d="M570.8 367.6C579.0 372.6 601.2 383.9 620.0 397.6C638.8 411.3 660.4 429.1 683.7 450.0C707.0 470.9 744.1 507.5 760.0 522.7C775.9 537.9 775.8 538.0 779.0 541.0" fill="none" stroke="#a9a9a9" stroke-width="3.60" stroke-linejoin="round" stroke-linecap="butt"/>
<path d="M984.5 147.5C986.1 149.7 991.2 155.0 994.0 160.5C996.8 166.0 999.5 174.0 1001.5 180.5C1003.5 187.0 1005.1 193.6 1006.0 199.5C1006.9 205.4 1007.4 208.9 1007.0 216.0C1006.6 223.1 1006.4 233.7 1003.6 242.3C1000.8 250.9 995.7 259.8 990.1 267.7C984.5 275.6 975.2 283.5 969.9 289.7C964.6 295.9 965.6 296.5 958.3 304.9C951.0 313.2 938.1 326.9 926.1 339.8C914.1 352.7 895.4 371.1 886.0 382.0C876.6 392.9 874.2 397.8 869.5 405.0C864.8 412.2 860.6 418.3 858.0 425.0C855.4 431.7 854.3 438.3 854.0 445.0C853.7 451.7 856.0 457.2 856.0 465.0C856.0 472.8 855.9 482.7 854.0 492.0C852.1 501.3 848.3 512.8 844.5 521.0C840.7 529.2 833.2 537.7 831.0 541.0" fill="none" stroke="#a9a9a9" stroke-width="3.00" stroke-linejoin="round" stroke-linecap="butt"/><path d="M640.3 200 L643.6 108 Q644.5 93 660 93 L657.0 93.0C664.2 93.2 683.3 93.5 700.0 94.5C716.7 95.5 737.4 97.1 757.0 99.0C776.6 100.9 797.7 103.2 817.6 106.0C837.5 108.8 856.9 111.5 876.5 116.0C896.1 120.5 920.2 127.8 935.2 133.0C950.2 138.2 961.2 144.7 966.4 147.0" fill="none" stroke="#d01018" stroke-width="1.90" stroke-linejoin="round" stroke-linecap="butt"/>
<path d="M966.4 147.0C968.3 148.6 973.8 151.0 977.8 156.8C981.8 162.6 987.5 173.1 990.3 181.9C993.0 190.8 994.2 199.7 994.3 209.9C994.4 220.1 994.5 232.3 990.8 243.0C987.1 253.7 979.0 264.8 972.2 274.2C965.4 283.6 959.7 288.4 949.9 299.3C940.1 310.2 925.1 327.0 913.5 339.8C901.9 352.6 888.2 366.0 880.0 376.0C871.8 386.0 868.0 392.7 864.0 400.0C860.0 407.3 858.3 413.7 856.0 420.0C853.7 426.3 851.0 435.0 850.0 438.0" fill="none" stroke="#d01018" stroke-width="1.90" stroke-linejoin="round" stroke-linecap="butt"/>
<path d="M850 438 L847.5 443.5 L833 443.5 L833 455.6 L835.5 455.6 L835.5 475.5 L850.8 476.8" fill="none" stroke="#d01018" stroke-width="1.90" stroke-linejoin="round" stroke-linecap="butt"/>
<path d="M850.8 476.8C850.5 479.3 850.0 487.3 849.0 492.0C848.0 496.7 846.8 500.7 845.0 505.0C843.2 509.3 839.8 515.2 838.0 518.0C836.2 520.8 834.7 520.9 834.0 521.5 L832 521.4" fill="none" stroke="#d01018" stroke-width="1.90" stroke-linejoin="round" stroke-linecap="butt"/>
<path d="M832 521.4 L760 472.8 L723 447.8 L692.5 434.4 L622 380" fill="none" stroke="#d01018" stroke-width="1.90" stroke-linejoin="round" stroke-linecap="butt"/>
<path d="M622.0 380.0C619.2 377.7 608.7 369.8 605.0 366.0C601.3 362.2 600.9 360.5 600.0 357.0C599.1 353.5 597.4 350.9 599.5 345.0C601.6 339.1 608.2 329.0 612.9 321.5C617.6 314.0 624.1 306.9 627.6 300.0C631.1 293.1 632.2 288.3 634.0 280.0C635.8 271.7 637.5 263.3 638.5 250.0C639.5 236.7 640.0 208.3 640.3 200.0" fill="none" stroke="#d01018" stroke-width="1.90" stroke-linejoin="round" stroke-linecap="butt"/><path d="M858.8 211.5C861.0 211.5 868.3 210.3 871.9 211.5C875.5 212.7 877.2 214.8 880.3 218.5C883.4 222.2 887.9 230.3 890.4 233.7C892.9 237.1 891.2 237.9 895.4 238.7C899.6 239.5 910.3 237.6 915.6 238.7C920.9 239.8 923.7 241.8 927.3 245.4C930.9 249.0 934.0 257.0 937.4 260.5C940.8 264.0 944.0 265.4 947.5 266.4C951.0 267.4 956.6 266.4 958.4 266.4" stroke="#d4d0cd" stroke-width="3.6" fill="none" stroke-linecap="round"/><path d="M858.8 211.5C861.0 211.5 868.3 210.3 871.9 211.5C875.5 212.7 877.2 214.8 880.3 218.5C883.4 222.2 887.9 230.3 890.4 233.7C892.9 237.1 891.2 237.9 895.4 238.7C899.6 239.5 910.3 237.6 915.6 238.7C920.9 239.8 923.7 241.8 927.3 245.4C930.9 249.0 934.0 257.0 937.4 260.5C940.8 264.0 944.0 265.4 947.5 266.4C951.0 267.4 956.6 266.4 958.4 266.4" stroke="#fff" stroke-width="2.1" fill="none" stroke-linecap="round"/><path d="M853.4 221.1C855.9 221.2 864.3 219.8 868.5 221.9C872.7 224.0 875.2 229.8 878.6 233.7C882.0 237.6 884.2 243.0 888.7 245.4C893.2 247.8 900.5 246.5 905.5 247.9C910.5 249.3 915.0 250.6 918.9 253.8C922.8 257.0 925.6 263.4 929.0 267.2C932.4 271.0 935.2 274.9 939.1 276.5C943.0 278.1 950.3 276.5 952.5 276.5" stroke="#d4d0cd" stroke-width="3.6" fill="none" stroke-linecap="round"/><path d="M853.4 221.1C855.9 221.2 864.3 219.8 868.5 221.9C872.7 224.0 875.2 229.8 878.6 233.7C882.0 237.6 884.2 243.0 888.7 245.4C893.2 247.8 900.5 246.5 905.5 247.9C910.5 249.3 915.0 250.6 918.9 253.8C922.8 257.0 925.6 263.4 929.0 267.2C932.4 271.0 935.2 274.9 939.1 276.5C943.0 278.1 950.3 276.5 952.5 276.5" stroke="#fff" stroke-width="2.1" fill="none" stroke-linecap="round"/><path d="M774.4 316.5C776.5 316.6 783.5 314.9 787.0 316.9C790.5 318.9 792.3 324.7 795.4 328.6C798.5 332.5 802.4 337.9 805.5 340.4C808.6 342.9 809.7 343.0 813.9 343.7C818.1 344.4 826.2 343.8 830.7 344.6C835.2 345.5 837.4 345.9 840.7 348.8C844.1 351.7 847.4 358.4 850.8 362.2C854.2 366.0 857.0 369.9 860.9 371.4C864.8 372.9 872.1 371.4 874.3 371.4" stroke="#d4d0cd" stroke-width="3.6" fill="none" stroke-linecap="round"/><path d="M774.4 316.5C776.5 316.6 783.5 314.9 787.0 316.9C790.5 318.9 792.3 324.7 795.4 328.6C798.5 332.5 802.4 337.9 805.5 340.4C808.6 342.9 809.7 343.0 813.9 343.7C818.1 344.4 826.2 343.8 830.7 344.6C835.2 345.5 837.4 345.9 840.7 348.8C844.1 351.7 847.4 358.4 850.8 362.2C854.2 366.0 857.0 369.9 860.9 371.4C864.8 372.9 872.1 371.4 874.3 371.4" stroke="#fff" stroke-width="2.1" fill="none" stroke-linecap="round"/><path d="M767.7 326.1C770.1 326.2 778.0 324.5 782.0 326.9C786.0 329.3 788.6 336.2 792.0 340.4C795.4 344.6 798.7 349.5 802.1 352.1C805.5 354.8 808.8 356.0 812.2 356.3C815.6 356.6 818.7 353.4 822.3 353.8C825.9 354.2 830.4 355.7 834.0 358.8C837.6 361.9 840.7 368.5 844.1 372.3C847.5 376.1 850.2 380.0 854.2 381.5C858.2 383.0 866.0 381.5 868.4 381.5" stroke="#d4d0cd" stroke-width="3.6" fill="none" stroke-linecap="round"/><path d="M767.7 326.1C770.1 326.2 778.0 324.5 782.0 326.9C786.0 329.3 788.6 336.2 792.0 340.4C795.4 344.6 798.7 349.5 802.1 352.1C805.5 354.8 808.8 356.0 812.2 356.3C815.6 356.6 818.7 353.4 822.3 353.8C825.9 354.2 830.4 355.7 834.0 358.8C837.6 361.9 840.7 368.5 844.1 372.3C847.5 376.1 850.2 380.0 854.2 381.5C858.2 383.0 866.0 381.5 868.4 381.5" stroke="#fff" stroke-width="2.1" fill="none" stroke-linecap="round"/><path d="M687.3 342.1C689.6 341.2 697.0 336.8 701.0 336.8C705.1 336.8 708.4 338.5 711.8 342.1C715.2 345.8 718.2 354.5 721.6 358.8C725.0 363.0 728.6 365.5 732.4 367.6C736.1 369.7 740.4 369.7 744.1 371.5C747.9 373.3 753.1 377.2 754.9 378.4" stroke="#d4d0cd" stroke-width="3.6" fill="none" stroke-linecap="round"/><path d="M687.3 342.1C689.6 341.2 697.0 336.8 701.0 336.8C705.1 336.8 708.4 338.5 711.8 342.1C715.2 345.8 718.2 354.5 721.6 358.8C725.0 363.0 728.6 365.5 732.4 367.6C736.1 369.7 740.4 369.7 744.1 371.5C747.9 373.3 753.1 377.2 754.9 378.4" stroke="#fff" stroke-width="2.1" fill="none" stroke-linecap="round"/><path d="M687.3 348.0C689.4 347.0 696.5 342.0 700.1 342.1C703.7 342.3 706.1 345.4 708.9 349.0C711.6 352.6 713.8 359.6 716.7 363.7C719.6 367.7 722.6 371.5 726.5 373.5C730.4 375.4 735.8 373.8 740.2 375.4C744.6 377.0 750.8 381.9 752.9 383.3" stroke="#d4d0cd" stroke-width="3.6" fill="none" stroke-linecap="round"/><path d="M687.3 348.0C689.4 347.0 696.5 342.0 700.1 342.1C703.7 342.3 706.1 345.4 708.9 349.0C711.6 352.6 713.8 359.6 716.7 363.7C719.6 367.7 722.6 371.5 726.5 373.5C730.4 375.4 735.8 373.8 740.2 375.4C744.6 377.0 750.8 381.9 752.9 383.3" stroke="#fff" stroke-width="2.1" fill="none" stroke-linecap="round"/><polygon points="652.8,247.8 677.4,223.1 690.0,208.0 742.0,218.0 738.6,233.7 749.5,283.7 727.0,304.0 689.0,297.0 666.0,291.0" fill="#b4b4b4" stroke="#424242" stroke-width="0.80" stroke-linejoin="round"/>
<polygon points="666.4,129.4 681.1,116.7 703.7,127.0 709.0,138.2 698.8,150.0 688.0,158.8 677.2,156.8" fill="#b4b4b4" stroke="#424242" stroke-width="0.80" stroke-linejoin="round"/>
<polygon points="670.4,163.7 678.2,156.8 689.0,158.8 681.1,167.6 685.1,186.2 677.2,184.2" fill="#b4b4b4" stroke="#424242" stroke-width="0.80" stroke-linejoin="round"/>
<polygon points="706.6,129.4 715.4,121.2 733.0,127.0 732.1,131.7 716.4,132.3 708.6,137.2" fill="#b4b4b4" stroke="#424242" stroke-width="0.80" stroke-linejoin="round"/>
<polygon points="731.1,127.4 766.3,137.2 765.4,140.2 733.0,131.3" fill="#888888" stroke="#424242" stroke-width="0.80" stroke-linejoin="round"/>
<polygon points="763.8,133.7 777.7,121.2 789.3,132.9 777.1,147.0 781.0,167.6 775.2,168.6 769.3,151.3" fill="#888888" stroke="#424242" stroke-width="0.80" stroke-linejoin="round"/>
<polygon points="846.0,158.8 886.2,169.5 890.5,183.8 909.7,189.7 907.3,202.8 886.2,197.6 858.8,190.5 848.0,200.3 832.3,204.8 818.6,192.1 837.2,168.6" fill="#b4b4b4" stroke="#424242" stroke-width="0.80" stroke-linejoin="round"/>
<polygon points="768.3,156.8 781.0,167.6 785.0,187.2 777.1,194.6 770.3,178.4" fill="#b4b4b4" stroke="none" stroke-width="0.80" stroke-linejoin="round"/>
<polygon points="846.5,169.9 820.8,199.6 780.6,187.9 775.1,149.1" fill="#b4b4b4" stroke="#424242" stroke-width="0.80" stroke-linejoin="round"/>
<polygon points="846.5,169.9 819.7,195.6 784.0,185.2 775.1,149.1 801.9,123.4 837.6,133.8" fill="#b4b4b4" stroke="#424242" stroke-width="0.80" stroke-linejoin="round"/>
<polygon points="777.1,194.6 741.0,229.3 693.0,215.3 681.1,166.8 717.2,132.1 765.2,146.1" fill="#b4b4b4" stroke="#424242" stroke-width="0.80" stroke-linejoin="round"/>
<path d="M727.2 132.3L733.0 131.3L762.7 139.4Q765.4 140.2 766.3 142.7L775.2 167.6L767.3 174.4L762.4 170.5L756.2 150.8Q755.6 149.0 753.7 148.5L726.2 141.1Z" fill="#bfbfbf" stroke="#424242" stroke-width="0.80" stroke-linejoin="round" stroke-linecap="butt"/>
<polygon points="757.2,188.9 736.1,209.2 708.0,201.0 701.0,172.5 722.1,152.2 750.2,160.4" fill="#a8a8a8" stroke="#424242" stroke-width="0.80" stroke-linejoin="round"/>
<polygon points="752.4,187.5 734.9,204.3 711.6,197.5 705.8,173.9 723.3,157.1 746.6,163.9" fill="#a9aeb8" stroke="#666" stroke-width="0.60" stroke-linejoin="round"/>
<polygon points="748.9,186.4 734.0,200.7 714.2,195.0 709.3,175.0 724.2,160.7 744.0,166.4" fill="#e2e5ec" stroke="#888" stroke-width="0.80" stroke-linejoin="round"/>
<polygon points="828.3,162.0 814.8,174.9 797.0,169.7 792.5,151.6 806.0,138.7 823.8,143.9" fill="#a9aeb8" stroke="#666" stroke-width="0.60" stroke-linejoin="round"/>
<polygon points="825.1,161.1 814.0,171.7 799.4,167.4 795.7,152.5 806.8,141.9 821.4,146.2" fill="#e2e5ec" stroke="#888" stroke-width="0.80" stroke-linejoin="round"/>
<path d="M680.2 178.4L691.3 176.4L697.1 198.1Q698.4 202.8 702.6 205.2L721.9 216.0L719.3 226.9L693.8 220.8Q690.0 219.9 688.1 216.4L684.7 209.7Z" fill="#888888" stroke="#424242" stroke-width="0.80" stroke-linejoin="round" stroke-linecap="butt"/>
<polygon points="668.4,226.9 681.7,214.2 693.9,225.4 678.2,239.5" fill="#888888" stroke="#424242" stroke-width="0.80" stroke-linejoin="round"/>
<path d="M832.3 146.0L848.0 142.1L852.3 157.5Q852.9 159.7 855.2 160.4L884.2 168.6L881.3 186.2L855.7 179.6Q850.9 178.4 847.2 181.5L832.3 194.0L824.5 182.3L836.6 169.3Q838.2 167.6 837.6 165.3Z" fill="#888888" stroke="#424242" stroke-width="0.80" stroke-linejoin="round" stroke-linecap="butt"/>
<polygon points="849.4,211.4 842.5,218.0 833.3,215.3 831.0,206.0 837.9,199.4 847.1,202.1" fill="#b4b4b4" stroke="#424242" stroke-width="0.80" stroke-linejoin="round"/>
<polygon points="836.2,217.5 845.1,216.6 846.6,225.4 837.2,226.3" fill="#b4b4b4" stroke="#424242" stroke-width="0.80" stroke-linejoin="round"/>
<polygon points="851.0,237.6 842.9,245.4 832.1,242.3 829.4,231.4 837.5,223.6 848.3,226.7" fill="#b4b4b4" stroke="#424242" stroke-width="0.80" stroke-linejoin="round"/>
<polygon points="986.4,217.5 957.2,245.5 918.3,234.2 908.6,194.9 937.8,166.9 976.7,178.2" fill="#b4b4b4" stroke="#424242" stroke-width="0.80" stroke-linejoin="round"/>
<polygon points="971.5,213.2 953.5,230.5 929.5,223.5 923.5,199.2 941.5,181.9 965.5,188.9" fill="#fff" stroke="#424242" stroke-width="0.80" stroke-linejoin="round"/>
<polygon points="927.7,158.2 941.0,155.4 944.6,166.6 931.6,169.0" fill="#888888" stroke="#424242" stroke-width="0.80" stroke-linejoin="round"/>
<path d="M925.4 177.4L933.2 171.5Q937.1 168.6 941.9 169.8L970.4 177.4L967.5 188.1L946.8 183.0Q944.0 182.3 941.2 183.1L931.2 186.2Z" fill="#888888" stroke="#424242" stroke-width="0.80" stroke-linejoin="round" stroke-linecap="butt"/>
<path d="M921.9 232.8L925.6 223.3L951.1 230.2Q953.2 230.8 954.9 229.4L963.8 221.9L971.7 228.9L963.0 240.6Q960.5 244.0 956.3 244.5L948.5 245.6Z" fill="#888888" stroke="#424242" stroke-width="0.80" stroke-linejoin="round" stroke-linecap="butt"/>
<polygon points="949.9,246.2 962.4,242.9 965.2,253.2 953.2,256.8" fill="#888888" stroke="#424242" stroke-width="0.80" stroke-linejoin="round"/>
<polygon points="724.5,306.0 738.0,294.0 745.8,345.5 734.3,348.5" fill="#b4b4b4" stroke="#424242" stroke-width="0.80" stroke-linejoin="round"/>
<polygon points="668.2,253.2 690.0,228.6 730.9,235.0 740.9,273.2 712.7,290.5 679.1,282.3" fill="#bfbfbf" stroke="#424242" stroke-width="0.80" stroke-linejoin="round"/>
<polygon points="678.2,257.7 696.4,235.9 722.7,240.5 733.6,264.1 713.6,285.0 686.4,278.6" fill="#b4b4b4" stroke="#424242" stroke-width="0.80" stroke-linejoin="round"/>
<polygon points="723.2,266.6 708.8,280.4 689.6,274.8 684.8,255.4 699.2,241.6 718.4,247.2" fill="#a9aeb8" stroke="#666" stroke-width="0.60" stroke-linejoin="round"/>
<polygon points="719.4,265.5 707.8,276.5 692.5,272.1 688.6,256.5 700.2,245.5 715.5,249.9" fill="#e2e5ec" stroke="#888" stroke-width="0.80" stroke-linejoin="round"/>
<polygon points="663.6,269.5 679.1,265.9 689.1,285.0 686.4,296.8 670.0,293.2 661.5,280.5" fill="#bfbfbf" stroke="#424242" stroke-width="0.80" stroke-linejoin="round"/>
<polygon points="689.1,285.0 712.7,290.5 725.5,276.8 736.4,285.9 721.8,301.4 725.5,317.7 710.9,321.4 704.5,304.1 687.3,297.7" fill="#888888" stroke="#424242" stroke-width="0.80" stroke-linejoin="round"/>
<polygon points="710.0,322.3 725.5,318.6 727.3,324.1 711.8,327.7" fill="#bfbfbf" stroke="#424242" stroke-width="0.80" stroke-linejoin="round"/>
<polygon points="668.6,226.4 681.3,213.7 694.0,227.4 677.4,239.2" fill="#888888" stroke="#424242" stroke-width="0.80" stroke-linejoin="round"/>
<polygon points="761.2,293.8 754.1,300.6 744.7,297.9 742.4,288.4 749.5,281.6 758.9,284.3" fill="#b4b4b4" stroke="#424242" stroke-width="0.80" stroke-linejoin="round"/>
<path d="M741.2 352.9 L710.8 381.3" fill="none" stroke="#424242" stroke-width="10.4" stroke-linejoin="miter" stroke-miterlimit="10"/>
<path d="M741.2 352.9 L710.8 381.3" fill="none" stroke="#b4b4b4" stroke-width="9.0" stroke-linejoin="miter" stroke-miterlimit="10"/>
<polygon points="659.1,316.4 664.4,311.1 688.3,318.3 692.7,336.8 684.9,348.5 690.6,365.5 703.2,373.7 700.6,383.8 680.5,378.7 674.2,370.5 662.9,370.5 656.6,368.0" fill="#b4b4b4" stroke="#424242" stroke-width="0.80" stroke-linejoin="round"/>
<polygon points="680.4,349.2 661.3,367.5 635.9,360.1 629.6,334.4 648.7,316.1 674.1,323.5" fill="#a8a8a8" stroke="#424242" stroke-width="0.80" stroke-linejoin="round"/>
<polygon points="675.8,347.5 674.2,353.1 669.2,356.1 666.0,361.0 660.4,362.3 654.8,363.7 649.7,360.8 643.9,360.5 639.9,356.3 635.9,352.2 635.8,346.4 633.2,341.2 634.8,335.7 636.4,330.1 641.4,327.1 644.6,322.2 650.2,320.9 655.8,319.5 660.9,322.4 666.7,322.7 670.7,326.9 674.7,331.0 674.8,336.8 677.4,342.0" fill="#747474" stroke="#4a4a4a" stroke-width="0.80" stroke-linejoin="round"/>
<polygon points="671.9,353.0 666.0,358.6 658.1,356.3 656.2,348.4 662.1,342.7 670.0,345.0" fill="#797979" stroke="#606060" stroke-width="0.50" stroke-linejoin="round"/>
<polygon points="659.7,356.0 653.8,361.7 645.9,359.4 644.0,351.4 649.9,345.7 657.7,348.0" fill="#797979" stroke="#606060" stroke-width="0.50" stroke-linejoin="round"/>
<polygon points="650.9,346.9 645.0,352.6 637.2,350.3 635.2,342.4 641.1,336.7 649.0,339.0" fill="#797979" stroke="#606060" stroke-width="0.50" stroke-linejoin="round"/>
<polygon points="654.4,334.8 648.5,340.5 640.6,338.2 638.7,330.2 644.6,324.6 652.5,326.9" fill="#797979" stroke="#606060" stroke-width="0.50" stroke-linejoin="round"/>
<polygon points="666.6,331.8 660.7,337.5 652.9,335.2 650.9,327.2 656.8,321.5 664.7,323.8" fill="#797979" stroke="#606060" stroke-width="0.50" stroke-linejoin="round"/>
<polygon points="675.4,340.8 669.5,346.5 661.6,344.2 659.7,336.3 665.6,330.6 673.4,332.9" fill="#797979" stroke="#606060" stroke-width="0.50" stroke-linejoin="round"/>
<polygon points="666.1,344.7 658.0,352.5 647.2,349.4 644.5,338.5 652.6,330.7 663.4,333.8" fill="#838383" stroke="#606060" stroke-width="0.50" stroke-linejoin="round"/>
<polygon points="677.4,378.0 673.1,382.1 667.4,380.5 666.0,374.8 670.3,370.7 676.0,372.3" fill="#b4b4b4" stroke="#424242" stroke-width="0.80" stroke-linejoin="round"/>
<polygon points="711.8,391.1 721.0,388.1 726.5,405.8 730.4,415.6 722.6,419.5 717.7,406.8" fill="#b4b4b4" stroke="#424242" stroke-width="0.80" stroke-linejoin="round"/>
<polygon points="723.6,403.4 751.0,414.6 750.4,425.4 743.2,431.6 724.2,423.8 719.6,417.5" fill="#b4b4b4" stroke="#424242" stroke-width="0.80" stroke-linejoin="round"/>
<polygon points="723.4,419.1 719.1,423.2 713.4,421.6 712.0,415.9 716.3,411.8 722.0,413.4" fill="#b4b4b4" stroke="#424242" stroke-width="0.80" stroke-linejoin="round"/>
<polygon points="750.2,355.5 743.4,362.0 734.4,359.4 732.2,350.3 739.0,343.8 748.0,346.4" fill="#b4b4b4" stroke="#424242" stroke-width="0.80" stroke-linejoin="round"/>
<polygon points="720.6,384.1 713.2,391.2 703.4,388.4 701.0,378.5 708.4,371.4 718.2,374.2" fill="#b4b4b4" stroke="#424242" stroke-width="0.80" stroke-linejoin="round"/>
<polygon points="834.4,246.0 847.2,245.1 854.0,239.2 861.9,245.1 864.8,258.8 857.9,265.6 846.2,278.4 835.4,269.5 830.9,256.8" fill="#b4b4b4" stroke="#424242" stroke-width="0.80" stroke-linejoin="round"/>
<polygon points="773.4,292.3 767.8,297.7 760.3,295.5 758.4,287.9 764.0,282.5 771.5,284.7" fill="#b4b4b4" stroke="#424242" stroke-width="0.80" stroke-linejoin="round"/>
<polygon points="817.4,300.7 810.3,307.5 800.9,304.8 798.6,295.3 805.7,288.5 815.1,291.2" fill="#b4b4b4" stroke="#424242" stroke-width="0.80" stroke-linejoin="round"/>
<polygon points="803.7,306.8 795.9,314.3 785.5,311.3 782.9,300.8 790.7,293.3 801.1,296.3" fill="#b4b4b4" stroke="#424242" stroke-width="0.80" stroke-linejoin="round"/>
<polygon points="790.0,296.0 782.2,303.5 771.8,300.5 769.2,290.0 777.0,282.5 787.4,285.5" fill="#b4b4b4" stroke="#424242" stroke-width="0.80" stroke-linejoin="round"/>
<polygon points="836.4,281.7 824.6,293.0 808.9,288.5 805.0,272.7 816.8,261.4 832.5,265.9" fill="#b4b4b4" stroke="#424242" stroke-width="0.80" stroke-linejoin="round"/>
<polygon points="798.9,310.4 813.2,318.0 837.5,298.7 830.8,291.1 818.2,305.4" fill="#b4b4b4" stroke="#424242" stroke-width="0.80" stroke-linejoin="round"/>
<path d="M740.5 351.5 L784.7 358.0" fill="none" stroke="#424242" stroke-width="12.2" stroke-linejoin="miter" stroke-miterlimit="10"/>
<path d="M740.5 351.5 L784.7 358.0" fill="none" stroke="#b4b4b4" stroke-width="10.8" stroke-linejoin="miter" stroke-miterlimit="10"/>
<path d="M841.8 329.8 L817.0 346.5 L823.3 369.1" fill="none" stroke="#424242" stroke-width="11.8" stroke-linejoin="miter" stroke-miterlimit="10"/>
<path d="M841.8 329.8 L817.0 346.5 L823.3 369.1" fill="none" stroke="#b4b4b4" stroke-width="10.4" stroke-linejoin="miter" stroke-miterlimit="10"/>
<polygon points="742.1,436.8 748.0,428.9 765.6,426.0 797.9,433.8 809.7,433.8 812.6,445.6 797.9,447.5 786.2,451.8 749.0,440.1" fill="#b4b4b4" stroke="#424242" stroke-width="0.80" stroke-linejoin="round"/>
<polygon points="775.4,451.4 797.9,447.1 812.6,445.6 809.7,434.8 818.5,423.6 825.4,443.6 806.8,465.2 780.3,458.3" fill="#b4b4b4" stroke="#424242" stroke-width="0.80" stroke-linejoin="round"/>
<path d="M899.6 274.0 L892.5 249.0 L917.9 223.8" fill="none" stroke="#424242" stroke-width="11.9" stroke-linejoin="miter" stroke-miterlimit="10"/>
<path d="M899.6 274.0 L892.5 249.0 L917.9 223.8" fill="none" stroke="#b4b4b4" stroke-width="10.5" stroke-linejoin="miter" stroke-miterlimit="10"/>
<polygon points="909.3,313.1 880.3,340.9 841.7,329.7 832.1,290.7 861.1,262.9 899.7,274.1" fill="#b4b4b4" stroke="#424242" stroke-width="0.80" stroke-linejoin="round"/>
<polygon points="894.7,308.9 876.7,326.2 852.7,319.2 846.7,294.9 864.7,277.6 888.7,284.6" fill="#fff" stroke="#424242" stroke-width="0.80" stroke-linejoin="round"/>
<polygon points="851.1,254.8 862.8,251.9 866.8,263.7 854.0,266.6" fill="#888888" stroke="#424242" stroke-width="0.80" stroke-linejoin="round"/>
<path d="M846.2 278.4L854.6 269.2Q857.9 265.6 862.7 266.7L893.2 273.5L893.2 284.2L868.7 279.0Q865.8 278.4 863.4 280.0L853.0 287.2Z" fill="#888888" stroke="#424242" stroke-width="0.80" stroke-linejoin="round" stroke-linecap="butt"/>
<path d="M845.2 321.4L848.5 319.1L873.7 326.8Q875.6 327.3 877.3 326.3L889.3 319.1L895.6 325.4L885.9 337.0Q883.4 340.1 879.6 339.2L846.2 331.2Z" fill="#888888" stroke="#424242" stroke-width="0.80" stroke-linejoin="round" stroke-linecap="butt"/>
<polygon points="872.4,339.8 887.1,336.9 889.0,348.6 877.3,352.5" fill="#888888" stroke="#424242" stroke-width="0.80" stroke-linejoin="round"/>
<polygon points="833.0,408.2 804.0,436.0 765.4,424.8 755.8,385.8 784.8,358.0 823.4,369.2" fill="#b4b4b4" stroke="#424242" stroke-width="0.80" stroke-linejoin="round"/>
<polygon points="818.4,404.0 800.4,421.3 776.4,414.3 770.4,390.0 788.4,372.7 812.4,379.7" fill="#fff" stroke="#424242" stroke-width="0.80" stroke-linejoin="round"/>
<polygon points="774.0,349.2 788.1,346.7 790.5,356.4 776.8,359.4" fill="#888888" stroke="#424242" stroke-width="0.80" stroke-linejoin="round"/>
<path d="M768.6 372.1L778.7 362.7Q782.3 359.4 787.1 360.4L817.5 367.2L816.6 378.0L792.0 372.7Q789.1 372.1 786.6 373.6L775.4 380.0Z" fill="#888888" stroke="#424242" stroke-width="0.80" stroke-linejoin="round" stroke-linecap="butt"/>
<path d="M769.0 422.1L771.5 415.2L796.1 422.5Q797.9 423.0 799.7 422.2L812.6 416.2L817.5 422.1L808.3 432.8Q805.8 435.8 802.0 434.7L770.5 426.0Z" fill="#888888" stroke="#424242" stroke-width="0.80" stroke-linejoin="round" stroke-linecap="butt"/>
<polygon points="797.0,436.8 808.7,433.8 812.0,444.6 799.9,447.5" fill="#888888" stroke="#424242" stroke-width="0.80" stroke-linejoin="round"/></g>
<clipPath id="h729"><circle cx="729.0" cy="179.8" r="8.4"/></clipPath><circle cx="729.0" cy="179.8" r="8.4" fill="#fbe3c6"/><path d="M713.5 175.3L730.0 163.7M714.8 177.1L731.3 165.5M716.0 178.9L732.6 167.3M717.3 180.7L733.8 169.1M718.6 182.5L735.1 170.9M719.8 184.3L736.3 172.7M721.1 186.1L737.6 174.5M722.3 187.9L738.9 176.3M723.6 189.7L740.1 178.1M724.9 191.5L741.4 179.9M726.1 193.3L742.6 181.7M727.4 195.1L743.9 183.5" stroke="#f4a548" stroke-width="1.0" fill="none" clip-path="url(#h729)"/><path d="M735.0 158.8L733.2 165.2" stroke="#eaa34a" stroke-width="1.3" fill="none"/><polygon points="732.4,167.9 731.5,163.9 735.3,165.0" fill="#eaa34a"/><path d="M750.2 174.5L743.8 176.1" stroke="#eaa34a" stroke-width="1.3" fill="none"/><polygon points="741.0,176.8 744.0,174.0 745.0,177.9" fill="#eaa34a"/><path d="M744.2 195.5L739.6 190.8" stroke="#eaa34a" stroke-width="1.3" fill="none"/><polygon points="737.6,188.7 741.5,189.9 738.6,192.7" fill="#eaa34a"/><path d="M723.0 200.8L724.8 194.4" stroke="#eaa34a" stroke-width="1.3" fill="none"/><polygon points="725.6,191.7 726.5,195.7 722.7,194.6" fill="#eaa34a"/><path d="M707.8 185.1L714.2 183.5" stroke="#eaa34a" stroke-width="1.3" fill="none"/><polygon points="717.0,182.8 714.0,185.6 713.0,181.7" fill="#eaa34a"/><path d="M713.8 164.1L718.4 168.8" stroke="#eaa34a" stroke-width="1.3" fill="none"/><polygon points="720.4,170.9 716.5,169.7 719.4,166.9" fill="#eaa34a"/>
<clipPath id="h810"><circle cx="810.4" cy="156.8" r="6.3"/></clipPath><circle cx="810.4" cy="156.8" r="6.3" fill="#fbe3c6"/><path d="M798.8 153.4L811.2 144.7M800.0 155.2L812.4 146.5M801.3 157.0L813.7 148.3M802.6 158.8L815.0 150.1M803.8 160.6L816.2 151.9M805.1 162.4L817.5 153.7M806.4 164.2L818.7 155.5M807.6 166.0L820.0 157.3M808.9 167.8L821.3 159.1" stroke="#f4a548" stroke-width="1.0" fill="none" clip-path="url(#h810)"/><path d="M814.9 141.2L813.7 145.2" stroke="#eaa34a" stroke-width="1.3" fill="none"/><polygon points="812.9,148.0 812.0,144.0 815.8,145.1" fill="#eaa34a"/><path d="M826.1 152.9L822.1 153.9" stroke="#eaa34a" stroke-width="1.3" fill="none"/><polygon points="819.3,154.6 822.3,151.8 823.3,155.6" fill="#eaa34a"/><path d="M821.7 168.5L818.8 165.5" stroke="#eaa34a" stroke-width="1.3" fill="none"/><polygon points="816.8,163.4 820.7,164.6 817.8,167.4" fill="#eaa34a"/><path d="M805.9 172.4L807.1 168.4" stroke="#eaa34a" stroke-width="1.3" fill="none"/><polygon points="807.9,165.6 808.8,169.6 805.0,168.5" fill="#eaa34a"/><path d="M794.7 160.7L798.7 159.7" stroke="#eaa34a" stroke-width="1.3" fill="none"/><polygon points="801.5,159.0 798.5,161.8 797.5,158.0" fill="#eaa34a"/><path d="M799.1 145.1L802.0 148.1" stroke="#eaa34a" stroke-width="1.3" fill="none"/><polygon points="804.0,150.2 800.1,149.0 803.0,146.2" fill="#eaa34a"/>
<clipPath id="h704"><circle cx="704.0" cy="261.0" r="6.6"/></clipPath><circle cx="704.0" cy="261.0" r="6.6" fill="#fbe3c6"/><path d="M691.8 257.4L704.8 248.3M693.1 259.2L706.1 250.1M694.4 261.0L707.3 252.0M695.6 262.8L708.6 253.8M696.9 264.6L709.9 255.6M698.1 266.4L711.1 257.4M699.4 268.2L712.4 259.2M700.7 270.0L713.6 261.0M701.9 271.9L714.9 262.8" stroke="#f4a548" stroke-width="1.0" fill="none" clip-path="url(#h704)"/><path d="M708.7 244.7L707.4 249.0" stroke="#eaa34a" stroke-width="1.3" fill="none"/><polygon points="706.6,251.8 705.7,247.8 709.6,248.9" fill="#eaa34a"/><path d="M720.5 256.9L716.1 258.0" stroke="#eaa34a" stroke-width="1.3" fill="none"/><polygon points="713.3,258.7 716.3,255.9 717.3,259.7" fill="#eaa34a"/><path d="M715.8 273.2L712.7 270.0" stroke="#eaa34a" stroke-width="1.3" fill="none"/><polygon points="710.7,267.9 714.6,269.1 711.7,271.9" fill="#eaa34a"/><path d="M699.3 277.3L700.6 273.0" stroke="#eaa34a" stroke-width="1.3" fill="none"/><polygon points="701.4,270.2 702.3,274.2 698.4,273.1" fill="#eaa34a"/><path d="M687.5 265.1L691.9 264.0" stroke="#eaa34a" stroke-width="1.3" fill="none"/><polygon points="694.7,263.3 691.7,266.1 690.7,262.3" fill="#eaa34a"/><path d="M692.2 248.8L695.3 252.0" stroke="#eaa34a" stroke-width="1.3" fill="none"/><polygon points="697.3,254.1 693.4,252.9 696.3,250.1" fill="#eaa34a"/>
<circle cx="790.4" cy="241.1" r="14.7" fill="#e30613"/>
<circle cx="948.0" cy="206.9" r="7.8" fill="#e30613"/>
<circle cx="870.7" cy="301.9" r="7.8" fill="#e30613"/>
<circle cx="794.4" cy="397.0" r="7.8" fill="#e30613"/>
<path d="M697.8 149.0L686.2 137.4" stroke="#cc1820" stroke-width="2.1" fill="none"/><polygon points="682.1,133.3 689.4,136.3 685.1,140.6" fill="#cc1820"/>
<path d="M748.7 136.2L750.5 127.2" stroke="#cc1820" stroke-width="2.1" fill="none"/><polygon points="751.7,121.5 753.2,129.3 747.3,128.1" fill="#cc1820"/>
<path d="M816.3 137.2L822.5 115.4" stroke="#cc1820" stroke-width="2.1" fill="none"/><polygon points="824.1,109.8 825.0,117.6 819.2,116.0" fill="#cc1820"/>
<path d="M672.3 222.4L661.6 211.1" stroke="#cc1820" stroke-width="2.1" fill="none"/><polygon points="657.6,206.8 664.8,210.1 660.4,214.2" fill="#cc1820"/>
<path d="M753.6 205.8L770.2 223.1" stroke="#cc1820" stroke-width="2.1" fill="none"/><polygon points="774.2,227.3 767.0,224.1 771.3,220.0" fill="#cc1820"/>
<path d="M802.6 192.1L797.1 213.8" stroke="#cc1820" stroke-width="2.1" fill="none"/><polygon points="795.7,219.5 794.6,211.7 800.4,213.2" fill="#cc1820"/>
<path d="M866.6 177.4L872.9 153.6" stroke="#cc1820" stroke-width="2.1" fill="none"/><polygon points="874.4,148.0 875.4,155.8 869.6,154.3" fill="#cc1820"/>
<path d="M878.4 197.0L875.9 206.1" stroke="#cc1820" stroke-width="2.1" fill="none"/><polygon points="874.4,211.7 873.4,203.9 879.2,205.4" fill="#cc1820"/>
<path d="M954.7 180.3L952.4 188.4" stroke="#cc1820" stroke-width="2.1" fill="none"/><polygon points="950.8,194.0 949.9,186.2 955.7,187.8" fill="#cc1820"/>
<path d="M973.4 199.9L965.3 201.6" stroke="#cc1820" stroke-width="2.1" fill="none"/><polygon points="959.6,202.8 966.1,198.4 967.4,204.2" fill="#cc1820"/>
<path d="M967.5 225.4L961.0 219.5" stroke="#cc1820" stroke-width="2.1" fill="none"/><polygon points="956.7,215.6 964.1,218.3 960.1,222.7" fill="#cc1820"/>
<path d="M939.1 233.2L940.9 224.2" stroke="#cc1820" stroke-width="2.1" fill="none"/><polygon points="942.0,218.5 943.5,226.2 937.6,225.1" fill="#cc1820"/>
<path d="M736.1 256.8L758.8 251.4" stroke="#cc1820" stroke-width="2.1" fill="none"/><polygon points="764.5,250.0 758.1,254.6 756.7,248.8" fill="#cc1820"/>
<path d="M667.6 284.2L651.6 288.6" stroke="#cc1820" stroke-width="2.1" fill="none"/><polygon points="646.0,290.1 652.3,285.3 653.8,291.1" fill="#cc1820"/>
<path d="M735.2 328.3L744.2 326.5" stroke="#cc1820" stroke-width="2.1" fill="none"/><polygon points="749.9,325.4 743.3,329.8 742.2,323.9" fill="#cc1820"/>
<path d="M670.7 337.2L687.5 333.5" stroke="#cc1820" stroke-width="2.1" fill="none"/><polygon points="693.2,332.3 686.7,336.8 685.4,330.9" fill="#cc1820"/>
<path d="M639.3 346.0L623.5 349.6" stroke="#cc1820" stroke-width="2.1" fill="none"/><polygon points="617.8,350.9 624.3,346.4 625.6,352.2" fill="#cc1820"/>
<path d="M686.3 383.3L684.6 391.3" stroke="#cc1820" stroke-width="2.1" fill="none"/><polygon points="683.4,397.0 682.0,389.2 687.8,390.5" fill="#cc1820"/>
<path d="M711.8 403.8L701.8 406.3" stroke="#cc1820" stroke-width="2.1" fill="none"/><polygon points="696.1,407.7 702.5,403.0 703.9,408.9" fill="#cc1820"/>
<path d="M755.9 358.6L752.9 367.3" stroke="#cc1820" stroke-width="2.1" fill="none"/><polygon points="751.0,372.8 750.5,364.9 756.2,366.9" fill="#cc1820"/>
<path d="M730.4 429.1L728.7 436.9" stroke="#cc1820" stroke-width="2.1" fill="none"/><polygon points="727.4,442.6 726.1,434.8 731.9,436.1" fill="#cc1820"/>
<path d="M763.8 448.2L762.0 456.3" stroke="#cc1820" stroke-width="2.1" fill="none"/><polygon points="760.8,462.0 759.4,454.2 765.3,455.5" fill="#cc1820"/>
<path d="M790.4 463.7L788.7 470.7" stroke="#cc1820" stroke-width="2.1" fill="none"/><polygon points="787.4,476.4 786.2,468.6 792.0,470.0" fill="#cc1820"/>
<path d="M771.5 374.1L780.2 383.5" stroke="#cc1820" stroke-width="2.1" fill="none"/><polygon points="784.2,387.8 777.0,384.5 781.4,380.4" fill="#cc1820"/>
<path d="M801.9 370.2L799.5 378.3" stroke="#cc1820" stroke-width="2.1" fill="none"/><polygon points="797.9,383.9 797.1,376.1 802.8,377.7" fill="#cc1820"/>
<path d="M820.5 390.7L811.5 392.5" stroke="#cc1820" stroke-width="2.1" fill="none"/><polygon points="805.8,393.7 812.4,389.3 813.6,395.2" fill="#cc1820"/>
<path d="M813.6 417.2L806.9 410.5" stroke="#cc1820" stroke-width="2.1" fill="none"/><polygon points="802.8,406.4 810.1,409.4 805.8,413.7" fill="#cc1820"/>
<path d="M787.2 424.0L789.6 414.9" stroke="#cc1820" stroke-width="2.1" fill="none"/><polygon points="791.1,409.3 792.1,417.1 786.3,415.6" fill="#cc1820"/>
<path d="M873.6 273.5L871.8 282.4" stroke="#cc1820" stroke-width="2.1" fill="none"/><polygon points="870.7,288.1 869.2,280.4 875.1,281.5" fill="#cc1820"/>
<path d="M897.1 295.0L887.1 297.5" stroke="#cc1820" stroke-width="2.1" fill="none"/><polygon points="881.4,298.9 887.8,294.2 889.2,300.1" fill="#cc1820"/>
<path d="M889.3 321.4L883.7 315.8" stroke="#cc1820" stroke-width="2.1" fill="none"/><polygon points="879.5,311.7 886.8,314.7 882.6,319.0" fill="#cc1820"/>
<path d="M861.9 327.3L863.6 319.3" stroke="#cc1820" stroke-width="2.1" fill="none"/><polygon points="864.8,313.6 866.2,321.4 860.4,320.1" fill="#cc1820"/>
<path d="M909.9 171.8L915.8 177.9M924.6 187.0L933.0 195.7" stroke="#cc1820" stroke-width="2.1" fill="none"/><path d="M915.8 177.9L924.6 187.0" stroke="#cc1820" stroke-width="2.7" stroke-dasharray="1.6 1.6" fill="none"/><polygon points="937.1,199.9 929.9,196.7 934.2,192.6" fill="#cc1820"/><polygon points="905.8,167.6 908.7,174.9 913.0,170.8" fill="#cc1820"/>
<path d="M852.9 225.5L858.8 224.1" stroke="#cc1820" stroke-width="2.1" fill="none"/><polygon points="864.5,222.7 858.1,227.3 856.7,221.5" fill="#cc1820"/><polygon points="847.2,226.9 855.0,228.1 853.6,222.3" fill="#cc1820"/>
<path d="M843.0 227.5L842.4 227.7M831.9 230.5L817.7 234.4" stroke="#cc1820" stroke-width="2.1" fill="none"/><path d="M842.4 227.7L831.9 230.5" stroke="#cc1820" stroke-width="2.7" stroke-dasharray="1.6 1.6" fill="none"/><polygon points="812.1,235.9 818.4,231.1 819.9,236.9" fill="#cc1820"/>
<path d="M778.3 272.2L773.9 288.4M771.5 296.7L767.1 312.9" stroke="#cc1820" stroke-width="2.1" fill="none"/><path d="M773.9 288.4L771.5 296.7" stroke="#cc1820" stroke-width="2.7" stroke-dasharray="1.6 1.6" fill="none"/><polygon points="765.5,318.5 764.6,310.7 770.3,312.3" fill="#cc1820"/><polygon points="779.9,266.6 775.1,272.8 780.8,274.4" fill="#cc1820"/>
<path d="M811.1 254.1L822.0 265.0M838.0 280.9L852.9 295.8" stroke="#cc1820" stroke-width="2.1" fill="none"/><path d="M822.0 265.0L838.0 280.9" stroke="#cc1820" stroke-width="2.7" stroke-dasharray="1.6 1.6" fill="none"/><polygon points="857.0,299.9 849.7,296.9 854.0,292.6" fill="#cc1820"/><polygon points="807.0,250.0 810.0,257.3 814.3,253.0" fill="#cc1820"/>
<path d="M825.5 103.2L833.7 78.6" stroke="#000" stroke-width="4.6" fill="none"/><polygon points="836.8,69.1 841.7,85.5 833.7,78.6 823.1,79.3" fill="#000"/>
<path d="M930.5 137.9L949.3 120.6" stroke="#000" stroke-width="4.6" fill="none"/><polygon points="956.6,113.8 953.0,130.5 949.3,120.6 939.7,116.1" fill="#000"/>
<path d="M621.6 227.7L647.4 233.4" stroke="#000" stroke-width="4.6" fill="none"/><polygon points="657.2,235.6 641.4,242.1 647.4,233.4 645.7,223.0" fill="#000"/>
<path d="M962.0 309.0L943.1 293.0" stroke="#000" stroke-width="4.6" fill="none"/><polygon points="935.5,286.5 952.5,288.1 943.1,293.0 939.8,303.0" fill="#000"/>
<path d="M662.1 430.9L680.8 413.3" stroke="#000" stroke-width="4.6" fill="none"/><polygon points="688.1,406.4 684.6,423.1 680.8,413.3 671.2,408.9" fill="#000"/>
<path d="M868.5 420.1L849.5 403.2" stroke="#000" stroke-width="4.6" fill="none"/><polygon points="842.0,396.6 859.0,398.6 849.5,403.2 846.0,413.2" fill="#000"/>
</g>
<text x="137.3" y="550.6" font-size="12.65" fill="#1e1e1e" xml:space="preserve" textLength="206.9" lengthAdjust="spacingAndGlyphs">hospital underground communication</text>
<text x="362" y="550" font-size="12.6" fill="#262626">医院地下车行流线</text>
<text x="137.3" y="572.4" font-size="12.65" fill="#1e1e1e" xml:space="preserve" textLength="161.3" lengthAdjust="spacingAndGlyphs">hospital underground access</text>
<text x="362" y="571.8" font-size="12.6" fill="#262626">医院地下车库出入口</text>
<text x="137.3" y="594.2" font-size="12.65" fill="#1e1e1e" xml:space="preserve" textLength="137.9" lengthAdjust="spacingAndGlyphs">hospital emergency road</text>
<text x="362" y="593.5" font-size="12.6" fill="#262626">紧急救护道路</text>
<text x="137.3" y="615.9" font-size="12.65" fill="#1e1e1e" xml:space="preserve" textLength="115.4" lengthAdjust="spacingAndGlyphs">hospital service road</text>
<text x="362" y="615.3" font-size="12.6" fill="#262626">医院后勤服务道路</text>
<text x="137.3" y="637.7" font-size="12.65" fill="#1e1e1e" xml:space="preserve">emergency department access</text>
<text x="362" y="637" font-size="12.6" fill="#262626">急诊急救入口</text>
<text x="137.3" y="659.5" font-size="12.65" fill="#1e1e1e" xml:space="preserve">residential service road</text>
<text x="362" y="658.9" font-size="12.6" fill="#262626">超高层服务车道</text>
<text x="137.3" y="681.3" font-size="12.65" fill="#1e1e1e" xml:space="preserve">residential emergency road</text>
<text x="362" y="680.7" font-size="12.6" fill="#262626">养老公寓消防通道</text>
<text x="137.3" y="703.1" font-size="12.65" fill="#1e1e1e" xml:space="preserve">residential  underground  access</text>
<text x="362" y="702.5" font-size="12.6" fill="#262626">养老公寓地下车库出入口</text>
<path d="M84.5 545.4H116.5" stroke="#0a36c8" stroke-width="3.2" stroke-dasharray="3.1 1.7" fill="none"/>
<circle cx="100.4" cy="567.4" r="9.8" fill="#0a36c8"/><polygon transform="translate(100.4,567.4) rotate(0)" points="-4.69,-1.73 0.16,-1.73 0.16,-3.21 4.94,0.00 0.16,3.21 0.16,1.73 -4.69,1.73" fill="#fff"/>
<path d="M89.9 585.9V592.9M94.2 585.9V592.9M98.5 585.9V592.9M102.9 585.9V592.9M107.2 585.9V592.9" stroke="#9db8f0" stroke-width="1" fill="none"/><path d="M85.6 589.4H111.5" stroke="#0a36c8" stroke-width="2.0" fill="none"/>
<path d="M85.6 610.8H110.3" stroke="#0a36c8" stroke-width="2.4" fill="none"/>
<rect x="90.3" y="630.0" width="14.6" height="14.6" fill="#0a36c8"/><rect x="92.78" y="635.58" width="9.64" height="3.45" fill="#fff"/><rect x="95.88" y="632.48" width="3.45" height="9.64" fill="#fff"/>
<path d="M85.6 659.3H110.6" stroke="#d0101a" stroke-width="3" fill="none"/>
<path d="M89.8 673.3V680.3M93.9 673.3V680.3M98.1 673.3V680.3M102.3 673.3V680.3M106.4 673.3V680.3" stroke="#f0a0a0" stroke-width="1" fill="none"/><path d="M85.6 676.8H110.6" stroke="#d0101a" stroke-width="2.4" fill="none"/>
<g transform="translate(98.9,698.9) rotate(0.0)"><circle r="8.9" fill="#e0000f"/><path d="M-2.72 5.24 V-2.55" stroke="#ffe9e6" stroke-width="1.14" fill="none"/><polygon points="-2.72,-5.24 -4.40,-1.88 -1.04,-1.88" fill="#ffe9e6"/><path d="M2.72 -5.24 V2.55" stroke="#ffe9e6" stroke-width="1.14" fill="none"/><polygon points="2.72,5.24 1.04,1.88 4.40,1.88" fill="#ffe9e6"/></g>
<text x="667.8" y="548.4" font-size="12.65" fill="#1e1e1e" xml:space="preserve" textLength="144.3" lengthAdjust="spacingAndGlyphs">outdoor - indoor  relations</text>
<text x="854.5" y="550" font-size="12.5" fill="#262626">室内外空间联系</text>
<text x="667.8" y="570.2" font-size="12.65" fill="#1e1e1e" xml:space="preserve" textLength="163.2" lengthAdjust="spacingAndGlyphs">outdoor communication hubs</text>
<text x="854.5" y="571.8" font-size="12.5" fill="#262626">室外社交集中场所</text>
<text x="667.8" y="592.0" font-size="12.65" fill="#1e1e1e" xml:space="preserve" textLength="155.7" lengthAdjust="spacingAndGlyphs">indoor communication hubs</text>
<text x="854.5" y="593.6" font-size="12.5" fill="#262626">室内社交集中空间</text>
<text x="667.8" y="613.8" font-size="12.65" fill="#1e1e1e" xml:space="preserve" textLength="109.2" lengthAdjust="spacingAndGlyphs">vehicle  site access</text>
<text x="854.5" y="615.4" font-size="12.5" fill="#262626">车行出入口</text>
<text x="667.8" y="635.6" font-size="12.65" fill="#1e1e1e" xml:space="preserve" textLength="74.1" lengthAdjust="spacingAndGlyphs">space of flow</text>
<text x="854.5" y="637.2" font-size="12.5" fill="#262626">流动性空间</text>
<path d="M639.9 542.6H622" stroke="#cc1820" stroke-width="2.3" fill="none"/><polygon points="616.4,542.6 624,539.5 624,545.7" fill="#cc1820"/>
<circle cx="630.5" cy="564.9" r="7.2" fill="#e30613"/>
<circle cx="630.5" cy="588.4" r="5.9" fill="#f8caa4"/>
<path d="M643.6 608.9H623" stroke="#000" stroke-width="2.7" fill="none"/><polygon points="617.1,608.9 627.8,602 624,608.9 627.8,615.8" fill="#000"/>
<path d="M618 629c3 6 6 8 11 6.5 4-1.2 7-2 11-3" stroke="#d8d8d8" stroke-width="3.4" fill="none" stroke-linecap="round"/><path d="M618 629c3 6 6 8 11 6.5 4-1.2 7-2 11-3" stroke="#fff" stroke-width="1.8" fill="none" stroke-linecap="round"/>
<path d="M618.5 636c3 5 6 7 10 6 4-1 6-1.8 10-2.6" stroke="#dcdcdc" stroke-width="3.2" fill="none" stroke-linecap="round"/><path d="M618.5 636c3 5 6 7 10 6 4-1 6-1.8 10-2.6" stroke="#fff" stroke-width="1.7" fill="none" stroke-linecap="round"/>
</svg></body></html>
